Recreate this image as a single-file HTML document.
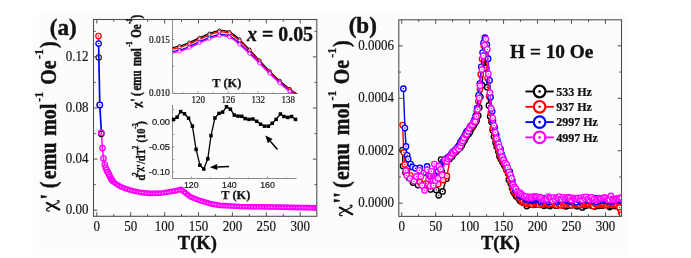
<!DOCTYPE html><html><head><meta charset="utf-8"><style>html,body{margin:0;padding:0;background:#fff;}svg{display:block;will-change:transform;}</style></head><body>
<svg width="691" height="258" viewBox="0 0 691 258">
<rect x="0" y="0" width="691" height="258" fill="#ffffff"/>
<rect x="33.5" y="14.5" width="593.5" height="240" fill="#fcfcfc"/>
<path d="M96.8 216.3V212.3 M96.8 19.5V23.5 M113.75 216.3V214.1 M113.75 19.5V21.7 M130.7 216.3V212.3 M130.7 19.5V23.5 M147.65 216.3V214.1 M147.65 19.5V21.7 M164.6 216.3V212.3 M164.6 19.5V23.5 M181.55 216.3V214.1 M181.55 19.5V21.7 M198.5 216.3V212.3 M198.5 19.5V23.5 M215.45 216.3V214.1 M215.45 19.5V21.7 M232.4 216.3V212.3 M232.4 19.5V23.5 M249.35 216.3V214.1 M249.35 19.5V21.7 M266.3 216.3V212.3 M266.3 19.5V23.5 M283.25 216.3V214.1 M283.25 19.5V21.7 M300.2 216.3V212.3 M300.2 19.5V23.5 M93.5 210.2H97.5 M316.8 210.2H312.8 M93.5 184.65H95.7 M316.8 184.65H314.6 M93.5 159.1H97.5 M316.8 159.1H312.8 M93.5 133.55H95.7 M316.8 133.55H314.6 M93.5 108H97.5 M316.8 108H312.8 M93.5 82.45H95.7 M316.8 82.45H314.6 M93.5 56.9H97.5 M316.8 56.9H312.8 M93.5 31.35H95.7 M316.8 31.35H314.6" stroke="#505050" stroke-width="1" fill="none"/>
<rect x="93.5" y="19.5" width="223.3" height="196.8" fill="none" stroke="#505050" stroke-width="1.1"/>
<text x="96.8" y="231" font-family='"Liberation Serif", serif' font-size="13" fill="#151515" text-anchor="middle"  stroke="#151515" stroke-width="0.18" transform="translate(0,-23.1) scale(1,1.1)">0</text>
<text x="130.7" y="231" font-family='"Liberation Serif", serif' font-size="13" fill="#151515" text-anchor="middle"  stroke="#151515" stroke-width="0.18" transform="translate(0,-23.1) scale(1,1.1)">50</text>
<text x="164.6" y="231" font-family='"Liberation Serif", serif' font-size="13" fill="#151515" text-anchor="middle"  stroke="#151515" stroke-width="0.18" transform="translate(0,-23.1) scale(1,1.1)">100</text>
<text x="198.5" y="231" font-family='"Liberation Serif", serif' font-size="13" fill="#151515" text-anchor="middle"  stroke="#151515" stroke-width="0.18" transform="translate(0,-23.1) scale(1,1.1)">150</text>
<text x="232.4" y="231" font-family='"Liberation Serif", serif' font-size="13" fill="#151515" text-anchor="middle"  stroke="#151515" stroke-width="0.18" transform="translate(0,-23.1) scale(1,1.1)">200</text>
<text x="266.3" y="231" font-family='"Liberation Serif", serif' font-size="13" fill="#151515" text-anchor="middle"  stroke="#151515" stroke-width="0.18" transform="translate(0,-23.1) scale(1,1.1)">250</text>
<text x="300.2" y="231" font-family='"Liberation Serif", serif' font-size="13" fill="#151515" text-anchor="middle"  stroke="#151515" stroke-width="0.18" transform="translate(0,-23.1) scale(1,1.1)">300</text>
<text x="88.6" y="213.9" font-family='"Liberation Serif", serif' font-size="13" fill="#151515" text-anchor="end"  stroke="#151515" stroke-width="0.18" transform="translate(0,-21.39) scale(1,1.1)">0.00</text>
<text x="88.6" y="162.8" font-family='"Liberation Serif", serif' font-size="13" fill="#151515" text-anchor="end"  stroke="#151515" stroke-width="0.18" transform="translate(0,-16.28) scale(1,1.1)">0.04</text>
<text x="88.6" y="111.7" font-family='"Liberation Serif", serif' font-size="13" fill="#151515" text-anchor="end"  stroke="#151515" stroke-width="0.18" transform="translate(0,-11.17) scale(1,1.1)">0.08</text>
<text x="88.6" y="60.6" font-family='"Liberation Serif", serif' font-size="13" fill="#151515" text-anchor="end"  stroke="#151515" stroke-width="0.18" transform="translate(0,-6.06) scale(1,1.1)">0.12</text>
<text x="49.8" y="34.6" font-family='"Liberation Serif", serif' font-size="23" font-weight="bold" fill="#111" text-anchor="start"  stroke="#111" stroke-width="0.45">(a)</text>
<text x="177.8" y="249.1" font-family='"Liberation Serif", serif' font-size="18.5" font-weight="bold" fill="#111" text-anchor="start"  stroke="#111" stroke-width="0.37">T(K)</text>
<g transform="translate(0,0)" fill="none" stroke="#111" stroke-linecap="round"><path d="M46.9 202.9 L59.3 209.5" stroke-width="2.3"/><path d="M49.3 211 C47.8 211.2 46.4 210.6 46.6 209.4 C46.8 208.4 47.8 208 48.8 207.6 L57 203.3 C58.6 202.5 59.6 201.6 59 200.9 C58.5 200.3 57.6 200.5 57.2 200.9" stroke-width="1.25"/></g>
<g transform="translate(55.7,211) rotate(-90) scale(1,1.12)"><text x="11.4" y="0" font-family='"Liberation Serif", serif' font-size="20" font-weight="bold" fill="#111" text-anchor="start"  stroke="#111" stroke-width="0.4">'</text><text x="22.8" y="0" font-family='"Liberation Serif", serif' font-size="20" font-weight="bold" fill="#111" text-anchor="start"  stroke="#111" stroke-width="0.4">(</text><text x="31.8" y="0" font-family='"Liberation Serif", serif' font-size="20" font-weight="bold" fill="#111" text-anchor="start"  stroke="#111" stroke-width="0.4">emu</text><text x="75.2" y="0" font-family='"Liberation Serif", serif' font-size="20" font-weight="bold" fill="#111" text-anchor="start"  stroke="#111" stroke-width="0.4">mol</text><text x="109.3" y="-11.5" font-family='"Liberation Serif", serif' font-size="12" font-weight="bold" fill="#111" text-anchor="start"  stroke="#111" stroke-width="0.24">-1</text><text x="126.2" y="0" font-family='"Liberation Serif", serif' font-size="20" font-weight="bold" fill="#111" text-anchor="start"  stroke="#111" stroke-width="0.4">Oe</text><text x="151.9" y="-11.5" font-family='"Liberation Serif", serif' font-size="12" font-weight="bold" fill="#111" text-anchor="start"  stroke="#111" stroke-width="0.24">-1</text><text x="163" y="0" font-family='"Liberation Serif", serif' font-size="20" font-weight="bold" fill="#111" text-anchor="start"  stroke="#111" stroke-width="0.4">)</text></g>
<path d="M172.5 19.5V93.5H297.4" stroke="#8c8c8c" stroke-width="1" fill="none"/>
<path d="M183.2 93.5V92.3 M198.2 93.5V91.5 M213.2 93.5V92.3 M228.2 93.5V91.5 M243.2 93.5V92.3 M258.2 93.5V91.5 M273.2 93.5V92.3 M288.2 93.5V91.5 M172.5 93.3H174.2 M172.5 66.4H174.2 M172.5 39.5H174.2" stroke="#8c8c8c" stroke-width="0.9" fill="none"/>
<text x="198.2" y="103" font-family='"Liberation Serif", serif' font-size="9" fill="#151515" text-anchor="middle"  stroke="#151515" stroke-width="0.18" transform="translate(0,-10.3) scale(1,1.1)">120</text>
<text x="228.2" y="103" font-family='"Liberation Serif", serif' font-size="9" fill="#151515" text-anchor="middle"  stroke="#151515" stroke-width="0.18" transform="translate(0,-10.3) scale(1,1.1)">126</text>
<text x="258.2" y="103" font-family='"Liberation Serif", serif' font-size="9" fill="#151515" text-anchor="middle"  stroke="#151515" stroke-width="0.18" transform="translate(0,-10.3) scale(1,1.1)">132</text>
<text x="288.2" y="103" font-family='"Liberation Serif", serif' font-size="9" fill="#151515" text-anchor="middle"  stroke="#151515" stroke-width="0.18" transform="translate(0,-10.3) scale(1,1.1)">138</text>
<text x="170" y="96.3" font-family='"Liberation Serif", serif' font-size="9.3" fill="#151515" text-anchor="end"  stroke="#151515" stroke-width="0.18" transform="translate(0,-9.63) scale(1,1.1)">0.010</text>
<text x="170" y="42.6" font-family='"Liberation Serif", serif' font-size="9.3" fill="#151515" text-anchor="end"  stroke="#151515" stroke-width="0.18" transform="translate(0,-4.26) scale(1,1.1)">0.015</text>
<text x="212.3" y="87.1" font-family='"Liberation Serif", serif' font-size="12.4" font-weight="bold" fill="#111" text-anchor="start"  stroke="#111" stroke-width="0.25">T (K)</text>
<g transform="translate(134.9,102) scale(0.55,0.52) translate(-45.8,-200.6)"><g transform="scale(1)"><path d="M46.9 202.9 L59.3 209.5" stroke-width="3.68" stroke="#111" fill="none" stroke-linecap="round"/><path d="M49.3 211 C47.8 211.2 46.4 210.6 46.6 209.4 C46.8 208.4 47.8 208 48.8 207.6 L57 203.3 C58.6 202.5 59.6 201.6 59 200.9 C58.5 200.3 57.6 200.5 57.2 200.9" stroke-width="2" stroke="#111" fill="none" stroke-linecap="round"/></g></g>
<g transform="translate(140.6,108) rotate(-90) scale(1,1.3)"><text x="6.4" y="0" font-family='"Liberation Serif", serif' font-size="11" font-weight="bold" fill="#111" text-anchor="start"  stroke="#111" stroke-width="0.4">'</text><text x="12.1" y="0" font-family='"Liberation Serif", serif' font-size="11" font-weight="bold" fill="#111" text-anchor="start"  stroke="#111" stroke-width="0.4">(</text><text x="17.5" y="0" font-family='"Liberation Serif", serif' font-size="11" font-weight="bold" fill="#111" text-anchor="start"  stroke="#111" stroke-width="0.4">emu</text><text x="42" y="0" font-family='"Liberation Serif", serif' font-size="11" font-weight="bold" fill="#111" text-anchor="start"  stroke="#111" stroke-width="0.4">mol</text><text x="61.2" y="-6.5" font-family='"Liberation Serif", serif' font-size="6.5" font-weight="bold" fill="#111" text-anchor="start"  stroke="#111" stroke-width="0.4">-1</text><text x="70.3" y="0" font-family='"Liberation Serif", serif' font-size="11" font-weight="bold" fill="#111" text-anchor="start"  stroke="#111" stroke-width="0.4">Oe</text><text x="84.3" y="-6.5" font-family='"Liberation Serif", serif' font-size="6.5" font-weight="bold" fill="#111" text-anchor="start"  stroke="#111" stroke-width="0.4">-1</text><text x="89.6" y="0" font-family='"Liberation Serif", serif' font-size="11" font-weight="bold" fill="#111" text-anchor="start"  stroke="#111" stroke-width="0.4">)</text></g>
<text x="247" y="40.8" font-family='"Liberation Serif", serif' font-size="19.9" font-weight="bold" fill="#111" stroke="#111" stroke-width="0.35"><tspan font-style="italic">x</tspan> = 0.05</text>
<defs><clipPath id="ic"><rect x="172.5" y="19.5" width="130" height="74"/></clipPath></defs>
<g clip-path="url(#ic)">
<path d="M172.5 47.6 C173.67 47.37 176.68 47.03 179.5 46.2 C182.32 45.37 186.07 44 189.4 42.6 C192.73 41.2 196.17 39.3 199.5 37.8 C202.83 36.3 206.98 34.6 209.4 33.6 C211.82 32.6 212.35 32.3 214 31.8 C215.65 31.3 217.63 30.8 219.3 30.6 C220.97 30.4 222.32 30.37 224 30.6 C225.68 30.83 227.73 31.3 229.4 32 C231.07 32.7 232.32 33.57 234 34.8 C235.68 36.03 236.92 36.93 239.5 39.4 C242.08 41.87 246.17 46.08 249.5 49.6 C252.83 53.12 256.15 56.9 259.5 60.5 C262.85 64.1 266.23 67.82 269.6 71.2 C272.97 74.58 276.35 77.83 279.7 80.8 C283.05 83.77 286.65 86.72 289.7 89 C292.75 91.28 296.62 93.58 298 94.5" fill="none" stroke="#000000" stroke-width="1.35"/>
<circle cx="179.5" cy="46.2" r="1.6" fill="#fff" stroke="#000000" stroke-width="0.9"/>
<circle cx="189.4" cy="42.6" r="1.6" fill="#fff" stroke="#000000" stroke-width="0.9"/>
<circle cx="199.5" cy="37.8" r="1.6" fill="#fff" stroke="#000000" stroke-width="0.9"/>
<circle cx="209.4" cy="33.6" r="1.6" fill="#fff" stroke="#000000" stroke-width="0.9"/>
<circle cx="219.3" cy="30.6" r="1.6" fill="#fff" stroke="#000000" stroke-width="0.9"/>
<circle cx="229.4" cy="32" r="1.6" fill="#fff" stroke="#000000" stroke-width="0.9"/>
<circle cx="239.5" cy="39.4" r="1.6" fill="#fff" stroke="#000000" stroke-width="0.9"/>
<circle cx="249.5" cy="49.6" r="1.6" fill="#fff" stroke="#000000" stroke-width="0.9"/>
<circle cx="259.5" cy="60.5" r="1.6" fill="#fff" stroke="#000000" stroke-width="0.9"/>
<circle cx="269.6" cy="71.2" r="1.6" fill="#fff" stroke="#000000" stroke-width="0.9"/>
<circle cx="279.7" cy="80.8" r="1.6" fill="#fff" stroke="#000000" stroke-width="0.9"/>
<circle cx="289.7" cy="89" r="1.6" fill="#fff" stroke="#000000" stroke-width="0.9"/>
<path d="M172.5 49 C173.67 48.77 176.68 48.43 179.5 47.6 C182.32 46.77 186.07 45.4 189.4 44 C192.73 42.6 196.17 40.7 199.5 39.2 C202.83 37.7 206.98 36 209.4 35 C211.82 34 212.35 33.7 214 33.2 C215.65 32.7 217.63 32.2 219.3 32 C220.97 31.8 222.32 31.77 224 32 C225.68 32.23 227.73 32.7 229.4 33.4 C231.07 34.1 232.32 34.97 234 36.2 C235.68 37.43 236.92 38.38 239.5 40.8 C242.08 43.22 246.17 47.29 249.5 50.7 C252.83 54.12 256.15 57.77 259.5 61.29 C262.85 64.81 266.23 68.47 269.6 71.83 C272.97 75.19 276.35 78.46 279.7 81.43 C283.05 84.4 286.65 87.35 289.7 89.63 C292.75 91.91 296.62 94.21 298 95.13" fill="none" stroke="#ff0000" stroke-width="1.35"/>
<circle cx="179.5" cy="47.6" r="1.6" fill="#fff" stroke="#ff0000" stroke-width="0.9"/>
<circle cx="189.4" cy="44" r="1.6" fill="#fff" stroke="#ff0000" stroke-width="0.9"/>
<circle cx="199.5" cy="39.2" r="1.6" fill="#fff" stroke="#ff0000" stroke-width="0.9"/>
<circle cx="209.4" cy="35" r="1.6" fill="#fff" stroke="#ff0000" stroke-width="0.9"/>
<circle cx="219.3" cy="32" r="1.6" fill="#fff" stroke="#ff0000" stroke-width="0.9"/>
<circle cx="229.4" cy="33.4" r="1.6" fill="#fff" stroke="#ff0000" stroke-width="0.9"/>
<circle cx="239.5" cy="40.8" r="1.6" fill="#fff" stroke="#ff0000" stroke-width="0.9"/>
<circle cx="249.5" cy="50.7" r="1.6" fill="#fff" stroke="#ff0000" stroke-width="0.9"/>
<circle cx="259.5" cy="61.29" r="1.6" fill="#fff" stroke="#ff0000" stroke-width="0.9"/>
<circle cx="269.6" cy="71.83" r="1.6" fill="#fff" stroke="#ff0000" stroke-width="0.9"/>
<circle cx="279.7" cy="81.43" r="1.6" fill="#fff" stroke="#ff0000" stroke-width="0.9"/>
<circle cx="289.7" cy="89.63" r="1.6" fill="#fff" stroke="#ff0000" stroke-width="0.9"/>
<path d="M172.5 51.6 C173.67 51.37 176.68 51.03 179.5 50.2 C182.32 49.37 186.07 48 189.4 46.6 C192.73 45.2 196.17 43.3 199.5 41.8 C202.83 40.3 206.98 38.6 209.4 37.6 C211.82 36.6 212.35 36.3 214 35.8 C215.65 35.3 217.63 34.8 219.3 34.6 C220.97 34.4 222.32 34.37 224 34.6 C225.68 34.83 227.73 35.3 229.4 36 C231.07 36.7 232.32 37.57 234 38.8 C235.68 40.03 236.92 41.07 239.5 43.4 C242.08 45.73 246.17 49.53 249.5 52.76 C252.83 55.98 256.15 59.39 259.5 62.77 C262.85 66.14 266.23 69.69 269.6 73 C272.97 76.31 276.35 79.63 279.7 82.6 C283.05 85.57 286.65 88.52 289.7 90.8 C292.75 93.08 296.62 95.38 298 96.3" fill="none" stroke="#0000ff" stroke-width="1.35"/>
<circle cx="179.5" cy="50.2" r="1.6" fill="#fff" stroke="#0000ff" stroke-width="0.9"/>
<circle cx="189.4" cy="46.6" r="1.6" fill="#fff" stroke="#0000ff" stroke-width="0.9"/>
<circle cx="199.5" cy="41.8" r="1.6" fill="#fff" stroke="#0000ff" stroke-width="0.9"/>
<circle cx="209.4" cy="37.6" r="1.6" fill="#fff" stroke="#0000ff" stroke-width="0.9"/>
<circle cx="219.3" cy="34.6" r="1.6" fill="#fff" stroke="#0000ff" stroke-width="0.9"/>
<circle cx="229.4" cy="36" r="1.6" fill="#fff" stroke="#0000ff" stroke-width="0.9"/>
<circle cx="239.5" cy="43.4" r="1.6" fill="#fff" stroke="#0000ff" stroke-width="0.9"/>
<circle cx="249.5" cy="52.76" r="1.6" fill="#fff" stroke="#0000ff" stroke-width="0.9"/>
<circle cx="259.5" cy="62.77" r="1.6" fill="#fff" stroke="#0000ff" stroke-width="0.9"/>
<circle cx="269.6" cy="73" r="1.6" fill="#fff" stroke="#0000ff" stroke-width="0.9"/>
<circle cx="279.7" cy="82.6" r="1.6" fill="#fff" stroke="#0000ff" stroke-width="0.9"/>
<circle cx="289.7" cy="90.8" r="1.6" fill="#fff" stroke="#0000ff" stroke-width="0.9"/>
<path d="M172.5 52.8 C173.67 52.57 176.68 52.23 179.5 51.4 C182.32 50.57 186.07 49.2 189.4 47.8 C192.73 46.4 196.17 44.5 199.5 43 C202.83 41.5 206.98 39.8 209.4 38.8 C211.82 37.8 212.35 37.5 214 37 C215.65 36.5 217.63 36 219.3 35.8 C220.97 35.6 222.32 35.57 224 35.8 C225.68 36.03 227.73 36.5 229.4 37.2 C231.07 37.9 232.32 38.77 234 40 C235.68 41.23 236.92 42.32 239.5 44.6 C242.08 46.88 246.17 50.56 249.5 53.7 C252.83 56.84 256.15 60.14 259.5 63.45 C262.85 66.75 266.23 70.26 269.6 73.54 C272.97 76.82 276.35 80.17 279.7 83.14 C283.05 86.11 286.65 89.06 289.7 91.34 C292.75 93.62 296.62 95.92 298 96.84" fill="none" stroke="#ff00ff" stroke-width="1.35"/>
<circle cx="179.5" cy="51.4" r="1.6" fill="#fff" stroke="#ff00ff" stroke-width="0.9"/>
<circle cx="189.4" cy="47.8" r="1.6" fill="#fff" stroke="#ff00ff" stroke-width="0.9"/>
<circle cx="199.5" cy="43" r="1.6" fill="#fff" stroke="#ff00ff" stroke-width="0.9"/>
<circle cx="209.4" cy="38.8" r="1.6" fill="#fff" stroke="#ff00ff" stroke-width="0.9"/>
<circle cx="219.3" cy="35.8" r="1.6" fill="#fff" stroke="#ff00ff" stroke-width="0.9"/>
<circle cx="229.4" cy="37.2" r="1.6" fill="#fff" stroke="#ff00ff" stroke-width="0.9"/>
<circle cx="239.5" cy="44.6" r="1.6" fill="#fff" stroke="#ff00ff" stroke-width="0.9"/>
<circle cx="249.5" cy="53.7" r="1.6" fill="#fff" stroke="#ff00ff" stroke-width="0.9"/>
<circle cx="259.5" cy="63.45" r="1.6" fill="#fff" stroke="#ff00ff" stroke-width="0.9"/>
<circle cx="269.6" cy="73.54" r="1.6" fill="#fff" stroke="#ff00ff" stroke-width="0.9"/>
<circle cx="279.7" cy="83.14" r="1.6" fill="#fff" stroke="#ff00ff" stroke-width="0.9"/>
<circle cx="289.7" cy="91.34" r="1.6" fill="#fff" stroke="#ff00ff" stroke-width="0.9"/>
</g>
<path d="M172.5 105V178.5H296.6" stroke="#8c8c8c" stroke-width="1" fill="none"/>
<path d="M172.25 178.5V177.3 M191.3 178.5V176.5 M210.35 178.5V177.3 M229.4 178.5V176.5 M248.45 178.5V177.3 M267.5 178.5V176.5 M286.55 178.5V177.3 M172.5 109.5H174.3 M172.5 122H174.3 M172.5 134.5H174.3 M172.5 147H174.3 M172.5 159.5H174.3 M172.5 172H174.3" stroke="#8c8c8c" stroke-width="0.9" fill="none"/>
<text x="191.3" y="188.3" font-family='"Liberation Sans", sans-serif' font-size="8.8" fill="#151515" text-anchor="middle"  stroke="#151515" stroke-width="0.18">120</text>
<text x="229.4" y="188.3" font-family='"Liberation Sans", sans-serif' font-size="8.8" fill="#151515" text-anchor="middle"  stroke="#151515" stroke-width="0.18">140</text>
<text x="267.5" y="188.3" font-family='"Liberation Sans", sans-serif' font-size="8.8" fill="#151515" text-anchor="middle"  stroke="#151515" stroke-width="0.18">160</text>
<text x="170" y="125.4" font-family='"Liberation Sans", sans-serif' font-size="9.3" fill="#151515" text-anchor="end"  stroke="#151515" stroke-width="0.18">0.00</text>
<text x="170" y="150.4" font-family='"Liberation Sans", sans-serif' font-size="9.3" fill="#151515" text-anchor="end"  stroke="#151515" stroke-width="0.18">-0.05</text>
<text x="170" y="175.4" font-family='"Liberation Sans", sans-serif' font-size="9.3" fill="#151515" text-anchor="end"  stroke="#151515" stroke-width="0.18">-0.10</text>
<text x="221.3" y="199.4" font-family='"Liberation Serif", serif' font-size="12.4" font-weight="bold" fill="#111" text-anchor="start"  stroke="#111" stroke-width="0.25">T (K)</text>
<g transform="translate(137,167.3) scale(0.52,0.4) translate(-45.8,-200.6)"><g transform="scale(1)"><path d="M46.9 202.9 L59.3 209.5" stroke-width="3.68" stroke="#111" fill="none" stroke-linecap="round"/><path d="M49.3 211 C47.8 211.2 46.4 210.6 46.6 209.4 C46.8 208.4 47.8 208 48.8 207.6 L57 203.3 C58.6 202.5 59.6 201.6 59 200.9 C58.5 200.3 57.6 200.5 57.2 200.9" stroke-width="2" stroke="#111" fill="none" stroke-linecap="round"/></g></g>
<g transform="translate(144.5,180.6) rotate(-90) scale(1,1.12)"><text x="0" y="0" font-family='"Liberation Serif", serif' font-size="10.5" font-weight="bold" fill="#111" text-anchor="start"  stroke="#111" stroke-width="0.35">d</text><text x="4.9" y="-5.5" font-family='"Liberation Serif", serif' font-size="6.5" font-weight="bold" fill="#111" text-anchor="start"  stroke="#111" stroke-width="0.35">2</text><text x="13.6" y="0" font-family='"Liberation Serif", serif' font-size="10.5" font-weight="bold" fill="#111" text-anchor="start"  stroke="#111" stroke-width="0.35">'/dT</text><text x="31.7" y="-5.5" font-family='"Liberation Serif", serif' font-size="6.5" font-weight="bold" fill="#111" text-anchor="start"  stroke="#111" stroke-width="0.35">2</text><text x="38" y="0" font-family='"Liberation Serif", serif' font-size="10.5" font-weight="bold" fill="#111" text-anchor="start"  stroke="#111" stroke-width="0.35">(10</text><text x="51.9" y="-5.5" font-family='"Liberation Serif", serif' font-size="6.5" font-weight="bold" fill="#111" text-anchor="start"  stroke="#111" stroke-width="0.35">-3</text><text x="55.8" y="0" font-family='"Liberation Serif", serif' font-size="10.5" font-weight="bold" fill="#111" text-anchor="start"  stroke="#111" stroke-width="0.35">)</text></g>
<polyline points="173.6,119.4 177.1,117.2 180.7,111.6 184.5,113.8 188.6,118.2 192.4,126.1 196.1,149.4 199.9,165.2 203.8,169 207.8,158.8 211,135.6 214.9,118 219,113.4 222.6,112.1 226.5,106.8 230.4,109.2 234.3,115.1 238,116.1 241.8,116.3 245.1,118.6 249,119.4 252.9,119 256.7,121.3 260.6,124.2 264.5,126.2 268.4,126.2 272.2,123.3 276.1,119.4 280.4,114 283.9,116.5 287.8,117.4 291.6,116.5 295.5,119.4" fill="none" stroke="#000" stroke-width="1.3" stroke-linejoin="round" />
<rect x="171.85" y="117.65" width="3.5" height="3.5" fill="#000"/><rect x="175.35" y="115.45" width="3.5" height="3.5" fill="#000"/><rect x="178.95" y="109.85" width="3.5" height="3.5" fill="#000"/><rect x="182.75" y="112.05" width="3.5" height="3.5" fill="#000"/><rect x="186.85" y="116.45" width="3.5" height="3.5" fill="#000"/><rect x="190.65" y="124.35" width="3.5" height="3.5" fill="#000"/><rect x="194.35" y="147.65" width="3.5" height="3.5" fill="#000"/><rect x="198.15" y="163.45" width="3.5" height="3.5" fill="#000"/><rect x="202.05" y="167.25" width="3.5" height="3.5" fill="#000"/><rect x="206.05" y="157.05" width="3.5" height="3.5" fill="#000"/><rect x="209.25" y="133.85" width="3.5" height="3.5" fill="#000"/><rect x="213.15" y="116.25" width="3.5" height="3.5" fill="#000"/><rect x="217.25" y="111.65" width="3.5" height="3.5" fill="#000"/><rect x="220.85" y="110.35" width="3.5" height="3.5" fill="#000"/><rect x="224.75" y="105.05" width="3.5" height="3.5" fill="#000"/><rect x="228.65" y="107.45" width="3.5" height="3.5" fill="#000"/><rect x="232.55" y="113.35" width="3.5" height="3.5" fill="#000"/><rect x="236.25" y="114.35" width="3.5" height="3.5" fill="#000"/><rect x="240.05" y="114.55" width="3.5" height="3.5" fill="#000"/><rect x="243.35" y="116.85" width="3.5" height="3.5" fill="#000"/><rect x="247.25" y="117.65" width="3.5" height="3.5" fill="#000"/><rect x="251.15" y="117.25" width="3.5" height="3.5" fill="#000"/><rect x="254.95" y="119.55" width="3.5" height="3.5" fill="#000"/><rect x="258.85" y="122.45" width="3.5" height="3.5" fill="#000"/><rect x="262.75" y="124.45" width="3.5" height="3.5" fill="#000"/><rect x="266.65" y="124.45" width="3.5" height="3.5" fill="#000"/><rect x="270.45" y="121.55" width="3.5" height="3.5" fill="#000"/><rect x="274.35" y="117.65" width="3.5" height="3.5" fill="#000"/><rect x="278.65" y="112.25" width="3.5" height="3.5" fill="#000"/><rect x="282.15" y="114.75" width="3.5" height="3.5" fill="#000"/><rect x="286.05" y="115.65" width="3.5" height="3.5" fill="#000"/><rect x="289.85" y="114.75" width="3.5" height="3.5" fill="#000"/><rect x="293.75" y="117.65" width="3.5" height="3.5" fill="#000"/>
<line x1="229" y1="166.5" x2="217.29" y2="166.99" stroke="#000" stroke-width="1.5"/><polygon points="209.8,167.3 217.16,163.89 217.42,170.09" fill="#000"/>
<line x1="277.5" y1="149.4" x2="270.25" y2="141.14" stroke="#000" stroke-width="1.5"/><polygon points="265.3,135.5 272.58,139.09 267.92,143.18" fill="#000"/>
<defs><clipPath id="ac"><rect x="94" y="20" width="222.3" height="195.8"/></clipPath></defs>
<g clip-path="url(#ac)">
<polyline points="111.1,178.7 114,182.3 117,184.6 120,186.3 125,188.4 130,190 135,191.3 140,192.3 150,193.4 160,193.2 165,192.5 175,190.9 181.3,189.3 184,191.8 190,196.6 200,200.6 210,203.6 220,205.4 240,206.5 280,207.2 318,207.8" fill="none" stroke="#ff00ff" stroke-width="5.7" stroke-linejoin="round" stroke-linecap="round"/>
<circle cx="112" cy="180.02" r="0.7" fill="#ffb8ff"/><circle cx="114.8" cy="183.11" r="0.7" fill="#ffb8ff"/><circle cx="117.6" cy="185.14" r="0.7" fill="#ffb8ff"/><circle cx="120.4" cy="186.67" r="0.7" fill="#ffb8ff"/><circle cx="123.2" cy="187.84" r="0.7" fill="#ffb8ff"/><circle cx="126" cy="188.92" r="0.7" fill="#ffb8ff"/><circle cx="128.8" cy="189.82" r="0.7" fill="#ffb8ff"/><circle cx="131.6" cy="190.62" r="0.7" fill="#ffb8ff"/><circle cx="134.4" cy="191.34" r="0.7" fill="#ffb8ff"/><circle cx="137.2" cy="191.94" r="0.7" fill="#ffb8ff"/><circle cx="140" cy="192.5" r="0.7" fill="#ffb8ff"/><circle cx="142.8" cy="192.81" r="0.7" fill="#ffb8ff"/><circle cx="145.6" cy="193.12" r="0.7" fill="#ffb8ff"/><circle cx="148.4" cy="193.42" r="0.7" fill="#ffb8ff"/><circle cx="151.2" cy="193.58" r="0.7" fill="#ffb8ff"/><circle cx="154" cy="193.52" r="0.7" fill="#ffb8ff"/><circle cx="156.8" cy="193.46" r="0.7" fill="#ffb8ff"/><circle cx="159.6" cy="193.41" r="0.7" fill="#ffb8ff"/><circle cx="162.4" cy="193.06" r="0.7" fill="#ffb8ff"/><circle cx="165.2" cy="192.67" r="0.7" fill="#ffb8ff"/><circle cx="168" cy="192.22" r="0.7" fill="#ffb8ff"/><circle cx="170.8" cy="191.77" r="0.7" fill="#ffb8ff"/><circle cx="173.6" cy="191.32" r="0.7" fill="#ffb8ff"/><circle cx="176.4" cy="190.74" r="0.7" fill="#ffb8ff"/><circle cx="179.2" cy="190.03" r="0.7" fill="#ffb8ff"/><circle cx="182" cy="190.15" r="0.7" fill="#ffb8ff"/><circle cx="184.8" cy="192.64" r="0.7" fill="#ffb8ff"/><circle cx="187.6" cy="194.88" r="0.7" fill="#ffb8ff"/><circle cx="190.4" cy="196.96" r="0.7" fill="#ffb8ff"/><circle cx="193.2" cy="198.08" r="0.7" fill="#ffb8ff"/><circle cx="196" cy="199.2" r="0.7" fill="#ffb8ff"/><circle cx="198.8" cy="200.32" r="0.7" fill="#ffb8ff"/><circle cx="201.6" cy="201.28" r="0.7" fill="#ffb8ff"/><circle cx="204.4" cy="202.12" r="0.7" fill="#ffb8ff"/><circle cx="207.2" cy="202.96" r="0.7" fill="#ffb8ff"/><circle cx="210" cy="203.8" r="0.7" fill="#ffb8ff"/><circle cx="212.8" cy="204.3" r="0.7" fill="#ffb8ff"/><circle cx="215.6" cy="204.81" r="0.7" fill="#ffb8ff"/><circle cx="218.4" cy="205.31" r="0.7" fill="#ffb8ff"/><circle cx="221.2" cy="205.67" r="0.7" fill="#ffb8ff"/><circle cx="224" cy="205.82" r="0.7" fill="#ffb8ff"/><circle cx="226.8" cy="205.97" r="0.7" fill="#ffb8ff"/><circle cx="229.6" cy="206.13" r="0.7" fill="#ffb8ff"/><circle cx="232.4" cy="206.28" r="0.7" fill="#ffb8ff"/><circle cx="235.2" cy="206.44" r="0.7" fill="#ffb8ff"/><circle cx="238" cy="206.59" r="0.7" fill="#ffb8ff"/><circle cx="240.8" cy="206.71" r="0.7" fill="#ffb8ff"/><circle cx="243.6" cy="206.76" r="0.7" fill="#ffb8ff"/><circle cx="246.4" cy="206.81" r="0.7" fill="#ffb8ff"/><circle cx="249.2" cy="206.86" r="0.7" fill="#ffb8ff"/><circle cx="252" cy="206.91" r="0.7" fill="#ffb8ff"/><circle cx="254.8" cy="206.96" r="0.7" fill="#ffb8ff"/><circle cx="257.6" cy="207.01" r="0.7" fill="#ffb8ff"/><circle cx="260.4" cy="207.06" r="0.7" fill="#ffb8ff"/><circle cx="263.2" cy="207.11" r="0.7" fill="#ffb8ff"/><circle cx="266" cy="207.16" r="0.7" fill="#ffb8ff"/><circle cx="268.8" cy="207.2" r="0.7" fill="#ffb8ff"/><circle cx="271.6" cy="207.25" r="0.7" fill="#ffb8ff"/><circle cx="274.4" cy="207.3" r="0.7" fill="#ffb8ff"/><circle cx="277.2" cy="207.35" r="0.7" fill="#ffb8ff"/><circle cx="280" cy="207.4" r="0.7" fill="#ffb8ff"/><circle cx="282.8" cy="207.44" r="0.7" fill="#ffb8ff"/><circle cx="285.6" cy="207.49" r="0.7" fill="#ffb8ff"/><circle cx="288.4" cy="207.53" r="0.7" fill="#ffb8ff"/><circle cx="291.2" cy="207.58" r="0.7" fill="#ffb8ff"/><circle cx="294" cy="207.62" r="0.7" fill="#ffb8ff"/><circle cx="296.8" cy="207.67" r="0.7" fill="#ffb8ff"/><circle cx="299.6" cy="207.71" r="0.7" fill="#ffb8ff"/><circle cx="302.4" cy="207.75" r="0.7" fill="#ffb8ff"/><circle cx="305.2" cy="207.8" r="0.7" fill="#ffb8ff"/><circle cx="308" cy="207.84" r="0.7" fill="#ffb8ff"/><circle cx="310.8" cy="207.89" r="0.7" fill="#ffb8ff"/><circle cx="313.6" cy="207.93" r="0.7" fill="#ffb8ff"/>
<polyline points="98.5,36 98.6,43.5" fill="none" stroke="#ff0000" stroke-width="1.4" stroke-linejoin="round" />
<polyline points="98.6,43.5 99.8,104.9 101.4,132.7" fill="none" stroke="#0000ff" stroke-width="1.7" stroke-linejoin="round" />
<polyline points="101.4,132.7 102.4,148.4 103.6,158.9 104.6,164.8" fill="none" stroke="#ff00ff" stroke-width="1.5" stroke-linejoin="round" />
<circle cx="98.5" cy="36" r="2.7" fill="#fff" stroke="#ff0000" stroke-width="1.3"/><circle cx="98.5" cy="36" r="0.7" fill="#ff0000"/>
<circle cx="101.3" cy="133.8" r="2.7" fill="#fff" stroke="#000000" stroke-width="1.3"/><circle cx="101.3" cy="133.8" r="0.7" fill="#000000"/>
<circle cx="99.8" cy="104.9" r="2.7" fill="#fff" stroke="#cc0000" stroke-width="1.3"/><circle cx="99.8" cy="104.9" r="0.7" fill="#cc0000"/>
<circle cx="98.7" cy="57.4" r="2.7" fill="none" stroke="#222222" stroke-width="1.1"/>
<circle cx="98.6" cy="43.5" r="2.7" fill="#fff" stroke="#0000ff" stroke-width="1.3"/><circle cx="98.6" cy="43.5" r="0.7" fill="#0000ff"/>
<circle cx="99.8" cy="104.9" r="2.7" fill="#fff" stroke="#0000ff" stroke-width="1.3"/><circle cx="99.8" cy="104.9" r="0.7" fill="#0000ff"/>
<circle cx="101.4" cy="132.7" r="2.7" fill="none" stroke="#ff00ff" stroke-width="1.3"/><circle cx="101.4" cy="132.7" r="0.7" fill="#ff00ff"/>
<circle cx="102.5" cy="148.2" r="2.7" fill="none" stroke="#ff00ff" stroke-width="1.3"/><circle cx="102.5" cy="148.2" r="0.7" fill="#ff00ff"/>
<circle cx="103.5" cy="158.4" r="2.7" fill="none" stroke="#ff00ff" stroke-width="1.3"/><circle cx="103.5" cy="158.4" r="0.7" fill="#ff00ff"/>
<circle cx="104.8" cy="164.6" r="2.7" fill="none" stroke="#ff00ff" stroke-width="1.3"/><circle cx="104.8" cy="164.6" r="0.7" fill="#ff00ff"/>
<circle cx="105.7" cy="167.5" r="2.7" fill="none" stroke="#ff00ff" stroke-width="1.3"/><circle cx="105.7" cy="167.5" r="0.7" fill="#ff00ff"/>
<circle cx="106.7" cy="170" r="2.7" fill="none" stroke="#ff00ff" stroke-width="1.3"/><circle cx="106.7" cy="170" r="0.7" fill="#ff00ff"/>
<circle cx="107.8" cy="172.2" r="2.7" fill="none" stroke="#ff00ff" stroke-width="1.3"/><circle cx="107.8" cy="172.2" r="0.7" fill="#ff00ff"/>
<circle cx="108.9" cy="174.3" r="2.7" fill="none" stroke="#ff00ff" stroke-width="1.3"/><circle cx="108.9" cy="174.3" r="0.7" fill="#ff00ff"/>
<circle cx="110" cy="176.5" r="2.7" fill="none" stroke="#ff00ff" stroke-width="1.3"/><circle cx="110" cy="176.5" r="0.7" fill="#ff00ff"/>
<circle cx="111.1" cy="178.7" r="2.7" fill="none" stroke="#ff00ff" stroke-width="1.3"/><circle cx="111.1" cy="178.7" r="0.7" fill="#ff00ff"/>
<circle cx="112.3" cy="180.5" r="2.7" fill="none" stroke="#ff00ff" stroke-width="1.3"/><circle cx="112.3" cy="180.5" r="0.7" fill="#ff00ff"/>
</g>
<path d="M401.7 216.4V212.4 M401.7 19.8V23.8 M418.68 216.4V214.2 M418.68 19.8V22 M435.66 216.4V212.4 M435.66 19.8V23.8 M452.65 216.4V214.2 M452.65 19.8V22 M469.63 216.4V212.4 M469.63 19.8V23.8 M486.61 216.4V214.2 M486.61 19.8V22 M503.59 216.4V212.4 M503.59 19.8V23.8 M520.58 216.4V214.2 M520.58 19.8V22 M537.56 216.4V212.4 M537.56 19.8V23.8 M554.54 216.4V214.2 M554.54 19.8V22 M571.52 216.4V212.4 M571.52 19.8V23.8 M588.51 216.4V214.2 M588.51 19.8V22 M605.49 216.4V212.4 M605.49 19.8V23.8 M398.8 203.2H402.8 M621.5 203.2H617.5 M398.8 176.97H401 M621.5 176.97H619.3 M398.8 150.75H402.8 M621.5 150.75H617.5 M398.8 124.52H401 M621.5 124.52H619.3 M398.8 98.3H402.8 M621.5 98.3H617.5 M398.8 72.07H401 M621.5 72.07H619.3 M398.8 45.85H402.8 M621.5 45.85H617.5" stroke="#505050" stroke-width="1" fill="none"/>
<rect x="398.8" y="19.8" width="222.7" height="196.6" fill="none" stroke="#505050" stroke-width="1.1"/>
<text x="401.7" y="231" font-family='"Liberation Serif", serif' font-size="13" fill="#151515" text-anchor="middle"  stroke="#151515" stroke-width="0.18" transform="translate(0,-23.1) scale(1,1.1)">0</text>
<text x="435.66" y="231" font-family='"Liberation Serif", serif' font-size="13" fill="#151515" text-anchor="middle"  stroke="#151515" stroke-width="0.18" transform="translate(0,-23.1) scale(1,1.1)">50</text>
<text x="469.63" y="231" font-family='"Liberation Serif", serif' font-size="13" fill="#151515" text-anchor="middle"  stroke="#151515" stroke-width="0.18" transform="translate(0,-23.1) scale(1,1.1)">100</text>
<text x="503.59" y="231" font-family='"Liberation Serif", serif' font-size="13" fill="#151515" text-anchor="middle"  stroke="#151515" stroke-width="0.18" transform="translate(0,-23.1) scale(1,1.1)">150</text>
<text x="537.56" y="231" font-family='"Liberation Serif", serif' font-size="13" fill="#151515" text-anchor="middle"  stroke="#151515" stroke-width="0.18" transform="translate(0,-23.1) scale(1,1.1)">200</text>
<text x="571.52" y="231" font-family='"Liberation Serif", serif' font-size="13" fill="#151515" text-anchor="middle"  stroke="#151515" stroke-width="0.18" transform="translate(0,-23.1) scale(1,1.1)">250</text>
<text x="605.49" y="231" font-family='"Liberation Serif", serif' font-size="13" fill="#151515" text-anchor="middle"  stroke="#151515" stroke-width="0.18" transform="translate(0,-23.1) scale(1,1.1)">300</text>
<text x="394" y="207.4" font-family='"Liberation Serif", serif' font-size="13" fill="#151515" text-anchor="end"  stroke="#151515" stroke-width="0.18" transform="translate(0,-20.74) scale(1,1.1)">0.0000</text>
<text x="394" y="154.95" font-family='"Liberation Serif", serif' font-size="13" fill="#151515" text-anchor="end"  stroke="#151515" stroke-width="0.18" transform="translate(0,-15.5) scale(1,1.1)">0.0002</text>
<text x="394" y="102.5" font-family='"Liberation Serif", serif' font-size="13" fill="#151515" text-anchor="end"  stroke="#151515" stroke-width="0.18" transform="translate(0,-10.25) scale(1,1.1)">0.0004</text>
<text x="394" y="50.05" font-family='"Liberation Serif", serif' font-size="13" fill="#151515" text-anchor="end"  stroke="#151515" stroke-width="0.18" transform="translate(0,-5.01) scale(1,1.1)">0.0006</text>
<text x="348.7" y="32.5" font-family='"Liberation Serif", serif' font-size="23" font-weight="bold" fill="#111" text-anchor="start"  stroke="#111" stroke-width="0.45">(b)</text>
<text x="480.9" y="249.1" font-family='"Liberation Serif", serif' font-size="18.5" font-weight="bold" fill="#111" text-anchor="start"  stroke="#111" stroke-width="0.37">T(K)</text>
<g transform="translate(292.9,4.7)" fill="none" stroke="#111" stroke-linecap="round"><path d="M46.9 202.9 L59.3 209.5" stroke-width="2.3"/><path d="M49.3 211 C47.8 211.2 46.4 210.6 46.6 209.4 C46.8 208.4 47.8 208 48.8 207.6 L57 203.3 C58.6 202.5 59.6 201.6 59 200.9 C58.5 200.3 57.6 200.5 57.2 200.9" stroke-width="1.25"/></g>
<g transform="translate(348.6,215.7) rotate(-90) scale(1,1.12)"><text x="12.3" y="0" font-family='"Liberation Serif", serif' font-size="20" font-weight="bold" fill="#111" text-anchor="start"  stroke="#111" stroke-width="0.4">''</text><text x="27.7" y="0" font-family='"Liberation Serif", serif' font-size="20" font-weight="bold" fill="#111" text-anchor="start"  stroke="#111" stroke-width="0.4">(</text><text x="35.8" y="0" font-family='"Liberation Serif", serif' font-size="20" font-weight="bold" fill="#111" text-anchor="start"  stroke="#111" stroke-width="0.4">emu</text><text x="80.5" y="0" font-family='"Liberation Serif", serif' font-size="20" font-weight="bold" fill="#111" text-anchor="start"  stroke="#111" stroke-width="0.4">mol</text><text x="115.3" y="-11.5" font-family='"Liberation Serif", serif' font-size="12" font-weight="bold" fill="#111" text-anchor="start"  stroke="#111" stroke-width="0.24">-1</text><text x="131.4" y="0" font-family='"Liberation Serif", serif' font-size="20" font-weight="bold" fill="#111" text-anchor="start"  stroke="#111" stroke-width="0.4">Oe</text><text x="158" y="-11.5" font-family='"Liberation Serif", serif' font-size="12" font-weight="bold" fill="#111" text-anchor="start"  stroke="#111" stroke-width="0.24">-1</text><text x="168.6" y="0" font-family='"Liberation Serif", serif' font-size="20" font-weight="bold" fill="#111" text-anchor="start"  stroke="#111" stroke-width="0.4">)</text></g>
<text x="510.1" y="58.2" font-family='"Liberation Serif", serif' font-size="19.3" font-weight="bold" fill="#111" text-anchor="start"  stroke="#111" stroke-width="0.39">H = 10 Oe</text>
<line x1="525.4" y1="91.5" x2="553.8" y2="91.5" stroke="#000000" stroke-width="1.8"/>
<circle cx="539.6" cy="91.5" r="5.8" fill="#fff" stroke="#000000" stroke-width="2.2"/><circle cx="539.6" cy="91.5" r="1.3" fill="#000000"/>
<text x="556.2" y="95.8" font-family='"Liberation Serif", serif' font-size="12" font-weight="bold" fill="#111" text-anchor="start"  stroke="#111" stroke-width="0.24">533 Hz</text>
<line x1="525.4" y1="106.8" x2="553.8" y2="106.8" stroke="#ff0000" stroke-width="1.8"/>
<circle cx="539.6" cy="106.8" r="5.8" fill="#fff" stroke="#ff0000" stroke-width="2.2"/><circle cx="539.6" cy="106.8" r="1.3" fill="#ff0000"/>
<text x="556.2" y="111.1" font-family='"Liberation Serif", serif' font-size="12" font-weight="bold" fill="#111" text-anchor="start"  stroke="#111" stroke-width="0.24">937 Hz</text>
<line x1="525.4" y1="122.1" x2="553.8" y2="122.1" stroke="#0000ff" stroke-width="1.8"/>
<circle cx="539.6" cy="122.1" r="5.8" fill="#fff" stroke="#0000ff" stroke-width="2.2"/><circle cx="539.6" cy="122.1" r="1.3" fill="#0000ff"/>
<text x="556.2" y="126.4" font-family='"Liberation Serif", serif' font-size="12" font-weight="bold" fill="#111" text-anchor="start"  stroke="#111" stroke-width="0.24">2997 Hz</text>
<line x1="525.4" y1="137.4" x2="553.8" y2="137.4" stroke="#ff00ff" stroke-width="1.8"/>
<circle cx="539.6" cy="137.4" r="5.8" fill="#fff" stroke="#ff00ff" stroke-width="2.2"/><circle cx="539.6" cy="137.4" r="1.3" fill="#ff00ff"/>
<text x="556.2" y="141.7" font-family='"Liberation Serif", serif' font-size="12" font-weight="bold" fill="#111" text-anchor="start"  stroke="#111" stroke-width="0.24">4997 Hz</text>
<defs><clipPath id="bc"><rect x="399.3" y="20.3" width="221.7" height="195.6"/></clipPath></defs>
<g clip-path="url(#bc)">
<polyline points="402.5,150 403,166 405.5,172.5 409,178 413,182.5 418,185 424,187 430.5,189.4 436.3,189.9 438.7,195.3 442.6,191.4 446.4,178.8 441.1,159.6 445.5,160.6 449.5,158.9 450.63,156.17 452.16,156.38 453.53,153.38 454.71,152.75 456.32,151.5 457.49,150.09 458.93,148.5 460.26,147.81 461.86,145.28 463.12,142.25 464.46,140.49 465.62,137.92 467.19,135.28 468.56,133.9 470.01,131.97 470.94,129.23 472.39,127.6 473.86,125.19 475.27,122.72 476.58,120.66 478.23,115.66 479.28,107.54 480.42,96.76 482.12,85.18 483.4,68.87 484.99,53.57 485.95,67.75 487.29,87.19 488.93,105.49 490.21,116.41 491.41,121.65 492.69,130.33 493.98,136.52 495.62,142.73 496.74,146.63 498.34,151.41 499.46,156.35 500.9,159.33 502.35,161.87 503.98,164.8 505.11,166.51 506.36,169.63 508.11,173.42 508.79,179.73 510.72,183.59 512.01,187.92 513.16,191.55 514.66,193.78 516.2,196.25 517.34,196.34 518.7,198.61 520.03,200.8 521.31,201.46 522.87,202.53 524.46,201.78 525.46,203 526.82,206.09 527.95,203.93 529.65,204.3 531.04,203.06 532.41,203.6 533.44,204.87 535.05,203.91 536.22,204.39 537.7,204.48 538.91,202.79 540.61,204.79 541.59,203.42 543.03,204.36 544.17,205.82 545.91,204.47 547.26,204.92 548.73,204.88 550.11,206.01 551.24,204.44 552.51,204.63 553.89,204.84 555.41,205.27 556.55,205.73 558.03,204.79 559.36,203.31 560.83,203.51 562.32,204.97 563.74,205.47 564.97,206.09 566.22,206.21 567.57,205.21 568.84,205.45 570.4,204.63 571.47,205.01 573.08,204.92 574.23,204.48 575.7,202.97 577.01,206.21 578.26,204.91 580.07,205.65 581.31,204.98 582.33,207.4 583.93,205.31 585.49,205.77 586.62,204.25 587.94,205.02 589.22,204.46 590.53,205.07 591.95,205.49 593.55,205.43 594.76,206.43 596.21,204.02 597.37,205.36 598.7,205.82 599.93,203.71 601.7,205.7 602.67,205.31 604.47,204.38 605.45,204.31 606.84,203.91 608.27,204.14 609.71,207.09 610.9,206.05 612.59,203.5 613.79,205.34 615.09,206 616.43,205.65 617.8,205.28 619.1,207.21 620.56,204.51 622.22,206.66" fill="none" stroke="#000000" stroke-width="1.4" stroke-linejoin="round" />
<circle cx="402.5" cy="150" r="2.7" fill="#fff" stroke="#000000" stroke-width="1.35"/><circle cx="402.5" cy="150" r="0.7" fill="#000000"/><circle cx="403" cy="166" r="2.7" fill="#fff" stroke="#000000" stroke-width="1.35"/><circle cx="403" cy="166" r="0.7" fill="#000000"/><circle cx="405.5" cy="172.5" r="2.7" fill="#fff" stroke="#000000" stroke-width="1.35"/><circle cx="405.5" cy="172.5" r="0.7" fill="#000000"/><circle cx="409" cy="178" r="2.7" fill="#fff" stroke="#000000" stroke-width="1.35"/><circle cx="409" cy="178" r="0.7" fill="#000000"/><circle cx="413" cy="182.5" r="2.7" fill="#fff" stroke="#000000" stroke-width="1.35"/><circle cx="413" cy="182.5" r="0.7" fill="#000000"/><circle cx="418" cy="185" r="2.7" fill="#fff" stroke="#000000" stroke-width="1.35"/><circle cx="418" cy="185" r="0.7" fill="#000000"/><circle cx="424" cy="187" r="2.7" fill="#fff" stroke="#000000" stroke-width="1.35"/><circle cx="424" cy="187" r="0.7" fill="#000000"/><circle cx="430.5" cy="189.4" r="2.7" fill="#fff" stroke="#000000" stroke-width="1.35"/><circle cx="430.5" cy="189.4" r="0.7" fill="#000000"/><circle cx="436.3" cy="189.9" r="2.7" fill="#fff" stroke="#000000" stroke-width="1.35"/><circle cx="436.3" cy="189.9" r="0.7" fill="#000000"/><circle cx="438.7" cy="195.3" r="2.7" fill="#fff" stroke="#000000" stroke-width="1.35"/><circle cx="438.7" cy="195.3" r="0.7" fill="#000000"/><circle cx="442.6" cy="191.4" r="2.7" fill="#fff" stroke="#000000" stroke-width="1.35"/><circle cx="442.6" cy="191.4" r="0.7" fill="#000000"/><circle cx="446.4" cy="178.8" r="2.7" fill="#fff" stroke="#000000" stroke-width="1.35"/><circle cx="446.4" cy="178.8" r="0.7" fill="#000000"/><circle cx="441.1" cy="159.6" r="2.7" fill="#fff" stroke="#000000" stroke-width="1.35"/><circle cx="441.1" cy="159.6" r="0.7" fill="#000000"/><circle cx="445.5" cy="160.6" r="2.7" fill="#fff" stroke="#000000" stroke-width="1.35"/><circle cx="445.5" cy="160.6" r="0.7" fill="#000000"/><circle cx="449.5" cy="158.9" r="2.7" fill="#fff" stroke="#000000" stroke-width="1.35"/><circle cx="449.5" cy="158.9" r="0.7" fill="#000000"/><circle cx="450.63" cy="156.17" r="2.7" fill="#fff" stroke="#000000" stroke-width="1.35"/><circle cx="450.63" cy="156.17" r="0.7" fill="#000000"/><circle cx="452.16" cy="156.38" r="2.7" fill="#fff" stroke="#000000" stroke-width="1.35"/><circle cx="452.16" cy="156.38" r="0.7" fill="#000000"/><circle cx="453.53" cy="153.38" r="2.7" fill="#fff" stroke="#000000" stroke-width="1.35"/><circle cx="453.53" cy="153.38" r="0.7" fill="#000000"/><circle cx="454.71" cy="152.75" r="2.7" fill="#fff" stroke="#000000" stroke-width="1.35"/><circle cx="454.71" cy="152.75" r="0.7" fill="#000000"/><circle cx="456.32" cy="151.5" r="2.7" fill="#fff" stroke="#000000" stroke-width="1.35"/><circle cx="456.32" cy="151.5" r="0.7" fill="#000000"/><circle cx="457.49" cy="150.09" r="2.7" fill="#fff" stroke="#000000" stroke-width="1.35"/><circle cx="457.49" cy="150.09" r="0.7" fill="#000000"/><circle cx="458.93" cy="148.5" r="2.7" fill="#fff" stroke="#000000" stroke-width="1.35"/><circle cx="458.93" cy="148.5" r="0.7" fill="#000000"/><circle cx="460.26" cy="147.81" r="2.7" fill="#fff" stroke="#000000" stroke-width="1.35"/><circle cx="460.26" cy="147.81" r="0.7" fill="#000000"/><circle cx="461.86" cy="145.28" r="2.7" fill="#fff" stroke="#000000" stroke-width="1.35"/><circle cx="461.86" cy="145.28" r="0.7" fill="#000000"/><circle cx="463.12" cy="142.25" r="2.7" fill="#fff" stroke="#000000" stroke-width="1.35"/><circle cx="463.12" cy="142.25" r="0.7" fill="#000000"/><circle cx="464.46" cy="140.49" r="2.7" fill="#fff" stroke="#000000" stroke-width="1.35"/><circle cx="464.46" cy="140.49" r="0.7" fill="#000000"/><circle cx="465.62" cy="137.92" r="2.7" fill="#fff" stroke="#000000" stroke-width="1.35"/><circle cx="465.62" cy="137.92" r="0.7" fill="#000000"/><circle cx="467.19" cy="135.28" r="2.7" fill="#fff" stroke="#000000" stroke-width="1.35"/><circle cx="467.19" cy="135.28" r="0.7" fill="#000000"/><circle cx="468.56" cy="133.9" r="2.7" fill="#fff" stroke="#000000" stroke-width="1.35"/><circle cx="468.56" cy="133.9" r="0.7" fill="#000000"/><circle cx="470.01" cy="131.97" r="2.7" fill="#fff" stroke="#000000" stroke-width="1.35"/><circle cx="470.01" cy="131.97" r="0.7" fill="#000000"/><circle cx="470.94" cy="129.23" r="2.7" fill="#fff" stroke="#000000" stroke-width="1.35"/><circle cx="470.94" cy="129.23" r="0.7" fill="#000000"/><circle cx="472.39" cy="127.6" r="2.7" fill="#fff" stroke="#000000" stroke-width="1.35"/><circle cx="472.39" cy="127.6" r="0.7" fill="#000000"/><circle cx="473.86" cy="125.19" r="2.7" fill="#fff" stroke="#000000" stroke-width="1.35"/><circle cx="473.86" cy="125.19" r="0.7" fill="#000000"/><circle cx="475.27" cy="122.72" r="2.7" fill="#fff" stroke="#000000" stroke-width="1.35"/><circle cx="475.27" cy="122.72" r="0.7" fill="#000000"/><circle cx="476.58" cy="120.66" r="2.7" fill="#fff" stroke="#000000" stroke-width="1.35"/><circle cx="476.58" cy="120.66" r="0.7" fill="#000000"/><circle cx="478.23" cy="115.66" r="2.7" fill="#fff" stroke="#000000" stroke-width="1.35"/><circle cx="478.23" cy="115.66" r="0.7" fill="#000000"/><circle cx="479.28" cy="107.54" r="2.7" fill="#fff" stroke="#000000" stroke-width="1.35"/><circle cx="479.28" cy="107.54" r="0.7" fill="#000000"/><circle cx="480.42" cy="96.76" r="2.7" fill="#fff" stroke="#000000" stroke-width="1.35"/><circle cx="480.42" cy="96.76" r="0.7" fill="#000000"/><circle cx="482.12" cy="85.18" r="2.7" fill="#fff" stroke="#000000" stroke-width="1.35"/><circle cx="482.12" cy="85.18" r="0.7" fill="#000000"/><circle cx="483.4" cy="68.87" r="2.7" fill="#fff" stroke="#000000" stroke-width="1.35"/><circle cx="483.4" cy="68.87" r="0.7" fill="#000000"/><circle cx="484.99" cy="53.57" r="2.7" fill="#fff" stroke="#000000" stroke-width="1.35"/><circle cx="484.99" cy="53.57" r="0.7" fill="#000000"/><circle cx="485.95" cy="67.75" r="2.7" fill="#fff" stroke="#000000" stroke-width="1.35"/><circle cx="485.95" cy="67.75" r="0.7" fill="#000000"/><circle cx="487.29" cy="87.19" r="2.7" fill="#fff" stroke="#000000" stroke-width="1.35"/><circle cx="487.29" cy="87.19" r="0.7" fill="#000000"/><circle cx="488.93" cy="105.49" r="2.7" fill="#fff" stroke="#000000" stroke-width="1.35"/><circle cx="488.93" cy="105.49" r="0.7" fill="#000000"/><circle cx="490.21" cy="116.41" r="2.7" fill="#fff" stroke="#000000" stroke-width="1.35"/><circle cx="490.21" cy="116.41" r="0.7" fill="#000000"/><circle cx="491.41" cy="121.65" r="2.7" fill="#fff" stroke="#000000" stroke-width="1.35"/><circle cx="491.41" cy="121.65" r="0.7" fill="#000000"/><circle cx="492.69" cy="130.33" r="2.7" fill="#fff" stroke="#000000" stroke-width="1.35"/><circle cx="492.69" cy="130.33" r="0.7" fill="#000000"/><circle cx="493.98" cy="136.52" r="2.7" fill="#fff" stroke="#000000" stroke-width="1.35"/><circle cx="493.98" cy="136.52" r="0.7" fill="#000000"/><circle cx="495.62" cy="142.73" r="2.7" fill="#fff" stroke="#000000" stroke-width="1.35"/><circle cx="495.62" cy="142.73" r="0.7" fill="#000000"/><circle cx="496.74" cy="146.63" r="2.7" fill="#fff" stroke="#000000" stroke-width="1.35"/><circle cx="496.74" cy="146.63" r="0.7" fill="#000000"/><circle cx="498.34" cy="151.41" r="2.7" fill="#fff" stroke="#000000" stroke-width="1.35"/><circle cx="498.34" cy="151.41" r="0.7" fill="#000000"/><circle cx="499.46" cy="156.35" r="2.7" fill="#fff" stroke="#000000" stroke-width="1.35"/><circle cx="499.46" cy="156.35" r="0.7" fill="#000000"/><circle cx="500.9" cy="159.33" r="2.7" fill="#fff" stroke="#000000" stroke-width="1.35"/><circle cx="500.9" cy="159.33" r="0.7" fill="#000000"/><circle cx="502.35" cy="161.87" r="2.7" fill="#fff" stroke="#000000" stroke-width="1.35"/><circle cx="502.35" cy="161.87" r="0.7" fill="#000000"/><circle cx="503.98" cy="164.8" r="2.7" fill="#fff" stroke="#000000" stroke-width="1.35"/><circle cx="503.98" cy="164.8" r="0.7" fill="#000000"/><circle cx="505.11" cy="166.51" r="2.7" fill="#fff" stroke="#000000" stroke-width="1.35"/><circle cx="505.11" cy="166.51" r="0.7" fill="#000000"/><circle cx="506.36" cy="169.63" r="2.7" fill="#fff" stroke="#000000" stroke-width="1.35"/><circle cx="506.36" cy="169.63" r="0.7" fill="#000000"/><circle cx="508.11" cy="173.42" r="2.7" fill="#fff" stroke="#000000" stroke-width="1.35"/><circle cx="508.11" cy="173.42" r="0.7" fill="#000000"/><circle cx="508.79" cy="179.73" r="2.7" fill="#fff" stroke="#000000" stroke-width="1.35"/><circle cx="508.79" cy="179.73" r="0.7" fill="#000000"/><circle cx="510.72" cy="183.59" r="2.7" fill="#fff" stroke="#000000" stroke-width="1.35"/><circle cx="510.72" cy="183.59" r="0.7" fill="#000000"/><circle cx="512.01" cy="187.92" r="2.7" fill="#fff" stroke="#000000" stroke-width="1.35"/><circle cx="512.01" cy="187.92" r="0.7" fill="#000000"/><circle cx="513.16" cy="191.55" r="2.7" fill="#fff" stroke="#000000" stroke-width="1.35"/><circle cx="513.16" cy="191.55" r="0.7" fill="#000000"/><circle cx="514.66" cy="193.78" r="2.7" fill="#fff" stroke="#000000" stroke-width="1.35"/><circle cx="514.66" cy="193.78" r="0.7" fill="#000000"/><circle cx="516.2" cy="196.25" r="2.7" fill="#fff" stroke="#000000" stroke-width="1.35"/><circle cx="516.2" cy="196.25" r="0.7" fill="#000000"/><circle cx="517.34" cy="196.34" r="2.7" fill="#fff" stroke="#000000" stroke-width="1.35"/><circle cx="517.34" cy="196.34" r="0.7" fill="#000000"/><circle cx="518.7" cy="198.61" r="2.7" fill="#fff" stroke="#000000" stroke-width="1.35"/><circle cx="518.7" cy="198.61" r="0.7" fill="#000000"/><circle cx="520.03" cy="200.8" r="2.7" fill="#fff" stroke="#000000" stroke-width="1.35"/><circle cx="520.03" cy="200.8" r="0.7" fill="#000000"/><circle cx="521.31" cy="201.46" r="2.7" fill="#fff" stroke="#000000" stroke-width="1.35"/><circle cx="521.31" cy="201.46" r="0.7" fill="#000000"/><circle cx="522.87" cy="202.53" r="2.7" fill="#fff" stroke="#000000" stroke-width="1.35"/><circle cx="522.87" cy="202.53" r="0.7" fill="#000000"/><circle cx="524.46" cy="201.78" r="2.7" fill="#fff" stroke="#000000" stroke-width="1.35"/><circle cx="524.46" cy="201.78" r="0.7" fill="#000000"/><circle cx="525.46" cy="203" r="2.7" fill="#fff" stroke="#000000" stroke-width="1.35"/><circle cx="525.46" cy="203" r="0.7" fill="#000000"/><circle cx="526.82" cy="206.09" r="2.7" fill="#fff" stroke="#000000" stroke-width="1.35"/><circle cx="526.82" cy="206.09" r="0.7" fill="#000000"/><circle cx="527.95" cy="203.93" r="2.7" fill="#fff" stroke="#000000" stroke-width="1.35"/><circle cx="527.95" cy="203.93" r="0.7" fill="#000000"/><circle cx="529.65" cy="204.3" r="2.7" fill="#fff" stroke="#000000" stroke-width="1.35"/><circle cx="529.65" cy="204.3" r="0.7" fill="#000000"/><circle cx="531.04" cy="203.06" r="2.7" fill="#fff" stroke="#000000" stroke-width="1.35"/><circle cx="531.04" cy="203.06" r="0.7" fill="#000000"/><circle cx="532.41" cy="203.6" r="2.7" fill="#fff" stroke="#000000" stroke-width="1.35"/><circle cx="532.41" cy="203.6" r="0.7" fill="#000000"/><circle cx="533.44" cy="204.87" r="2.7" fill="#fff" stroke="#000000" stroke-width="1.35"/><circle cx="533.44" cy="204.87" r="0.7" fill="#000000"/><circle cx="535.05" cy="203.91" r="2.7" fill="#fff" stroke="#000000" stroke-width="1.35"/><circle cx="535.05" cy="203.91" r="0.7" fill="#000000"/><circle cx="536.22" cy="204.39" r="2.7" fill="#fff" stroke="#000000" stroke-width="1.35"/><circle cx="536.22" cy="204.39" r="0.7" fill="#000000"/><circle cx="537.7" cy="204.48" r="2.7" fill="#fff" stroke="#000000" stroke-width="1.35"/><circle cx="537.7" cy="204.48" r="0.7" fill="#000000"/><circle cx="538.91" cy="202.79" r="2.7" fill="#fff" stroke="#000000" stroke-width="1.35"/><circle cx="538.91" cy="202.79" r="0.7" fill="#000000"/><circle cx="540.61" cy="204.79" r="2.7" fill="#fff" stroke="#000000" stroke-width="1.35"/><circle cx="540.61" cy="204.79" r="0.7" fill="#000000"/><circle cx="541.59" cy="203.42" r="2.7" fill="#fff" stroke="#000000" stroke-width="1.35"/><circle cx="541.59" cy="203.42" r="0.7" fill="#000000"/><circle cx="543.03" cy="204.36" r="2.7" fill="#fff" stroke="#000000" stroke-width="1.35"/><circle cx="543.03" cy="204.36" r="0.7" fill="#000000"/><circle cx="544.17" cy="205.82" r="2.7" fill="#fff" stroke="#000000" stroke-width="1.35"/><circle cx="544.17" cy="205.82" r="0.7" fill="#000000"/><circle cx="545.91" cy="204.47" r="2.7" fill="#fff" stroke="#000000" stroke-width="1.35"/><circle cx="545.91" cy="204.47" r="0.7" fill="#000000"/><circle cx="547.26" cy="204.92" r="2.7" fill="#fff" stroke="#000000" stroke-width="1.35"/><circle cx="547.26" cy="204.92" r="0.7" fill="#000000"/><circle cx="548.73" cy="204.88" r="2.7" fill="#fff" stroke="#000000" stroke-width="1.35"/><circle cx="548.73" cy="204.88" r="0.7" fill="#000000"/><circle cx="550.11" cy="206.01" r="2.7" fill="#fff" stroke="#000000" stroke-width="1.35"/><circle cx="550.11" cy="206.01" r="0.7" fill="#000000"/><circle cx="551.24" cy="204.44" r="2.7" fill="#fff" stroke="#000000" stroke-width="1.35"/><circle cx="551.24" cy="204.44" r="0.7" fill="#000000"/><circle cx="552.51" cy="204.63" r="2.7" fill="#fff" stroke="#000000" stroke-width="1.35"/><circle cx="552.51" cy="204.63" r="0.7" fill="#000000"/><circle cx="553.89" cy="204.84" r="2.7" fill="#fff" stroke="#000000" stroke-width="1.35"/><circle cx="553.89" cy="204.84" r="0.7" fill="#000000"/><circle cx="555.41" cy="205.27" r="2.7" fill="#fff" stroke="#000000" stroke-width="1.35"/><circle cx="555.41" cy="205.27" r="0.7" fill="#000000"/><circle cx="556.55" cy="205.73" r="2.7" fill="#fff" stroke="#000000" stroke-width="1.35"/><circle cx="556.55" cy="205.73" r="0.7" fill="#000000"/><circle cx="558.03" cy="204.79" r="2.7" fill="#fff" stroke="#000000" stroke-width="1.35"/><circle cx="558.03" cy="204.79" r="0.7" fill="#000000"/><circle cx="559.36" cy="203.31" r="2.7" fill="#fff" stroke="#000000" stroke-width="1.35"/><circle cx="559.36" cy="203.31" r="0.7" fill="#000000"/><circle cx="560.83" cy="203.51" r="2.7" fill="#fff" stroke="#000000" stroke-width="1.35"/><circle cx="560.83" cy="203.51" r="0.7" fill="#000000"/><circle cx="562.32" cy="204.97" r="2.7" fill="#fff" stroke="#000000" stroke-width="1.35"/><circle cx="562.32" cy="204.97" r="0.7" fill="#000000"/><circle cx="563.74" cy="205.47" r="2.7" fill="#fff" stroke="#000000" stroke-width="1.35"/><circle cx="563.74" cy="205.47" r="0.7" fill="#000000"/><circle cx="564.97" cy="206.09" r="2.7" fill="#fff" stroke="#000000" stroke-width="1.35"/><circle cx="564.97" cy="206.09" r="0.7" fill="#000000"/><circle cx="566.22" cy="206.21" r="2.7" fill="#fff" stroke="#000000" stroke-width="1.35"/><circle cx="566.22" cy="206.21" r="0.7" fill="#000000"/><circle cx="567.57" cy="205.21" r="2.7" fill="#fff" stroke="#000000" stroke-width="1.35"/><circle cx="567.57" cy="205.21" r="0.7" fill="#000000"/><circle cx="568.84" cy="205.45" r="2.7" fill="#fff" stroke="#000000" stroke-width="1.35"/><circle cx="568.84" cy="205.45" r="0.7" fill="#000000"/><circle cx="570.4" cy="204.63" r="2.7" fill="#fff" stroke="#000000" stroke-width="1.35"/><circle cx="570.4" cy="204.63" r="0.7" fill="#000000"/><circle cx="571.47" cy="205.01" r="2.7" fill="#fff" stroke="#000000" stroke-width="1.35"/><circle cx="571.47" cy="205.01" r="0.7" fill="#000000"/><circle cx="573.08" cy="204.92" r="2.7" fill="#fff" stroke="#000000" stroke-width="1.35"/><circle cx="573.08" cy="204.92" r="0.7" fill="#000000"/><circle cx="574.23" cy="204.48" r="2.7" fill="#fff" stroke="#000000" stroke-width="1.35"/><circle cx="574.23" cy="204.48" r="0.7" fill="#000000"/><circle cx="575.7" cy="202.97" r="2.7" fill="#fff" stroke="#000000" stroke-width="1.35"/><circle cx="575.7" cy="202.97" r="0.7" fill="#000000"/><circle cx="577.01" cy="206.21" r="2.7" fill="#fff" stroke="#000000" stroke-width="1.35"/><circle cx="577.01" cy="206.21" r="0.7" fill="#000000"/><circle cx="578.26" cy="204.91" r="2.7" fill="#fff" stroke="#000000" stroke-width="1.35"/><circle cx="578.26" cy="204.91" r="0.7" fill="#000000"/><circle cx="580.07" cy="205.65" r="2.7" fill="#fff" stroke="#000000" stroke-width="1.35"/><circle cx="580.07" cy="205.65" r="0.7" fill="#000000"/><circle cx="581.31" cy="204.98" r="2.7" fill="#fff" stroke="#000000" stroke-width="1.35"/><circle cx="581.31" cy="204.98" r="0.7" fill="#000000"/><circle cx="582.33" cy="207.4" r="2.7" fill="#fff" stroke="#000000" stroke-width="1.35"/><circle cx="582.33" cy="207.4" r="0.7" fill="#000000"/><circle cx="583.93" cy="205.31" r="2.7" fill="#fff" stroke="#000000" stroke-width="1.35"/><circle cx="583.93" cy="205.31" r="0.7" fill="#000000"/><circle cx="585.49" cy="205.77" r="2.7" fill="#fff" stroke="#000000" stroke-width="1.35"/><circle cx="585.49" cy="205.77" r="0.7" fill="#000000"/><circle cx="586.62" cy="204.25" r="2.7" fill="#fff" stroke="#000000" stroke-width="1.35"/><circle cx="586.62" cy="204.25" r="0.7" fill="#000000"/><circle cx="587.94" cy="205.02" r="2.7" fill="#fff" stroke="#000000" stroke-width="1.35"/><circle cx="587.94" cy="205.02" r="0.7" fill="#000000"/><circle cx="589.22" cy="204.46" r="2.7" fill="#fff" stroke="#000000" stroke-width="1.35"/><circle cx="589.22" cy="204.46" r="0.7" fill="#000000"/><circle cx="590.53" cy="205.07" r="2.7" fill="#fff" stroke="#000000" stroke-width="1.35"/><circle cx="590.53" cy="205.07" r="0.7" fill="#000000"/><circle cx="591.95" cy="205.49" r="2.7" fill="#fff" stroke="#000000" stroke-width="1.35"/><circle cx="591.95" cy="205.49" r="0.7" fill="#000000"/><circle cx="593.55" cy="205.43" r="2.7" fill="#fff" stroke="#000000" stroke-width="1.35"/><circle cx="593.55" cy="205.43" r="0.7" fill="#000000"/><circle cx="594.76" cy="206.43" r="2.7" fill="#fff" stroke="#000000" stroke-width="1.35"/><circle cx="594.76" cy="206.43" r="0.7" fill="#000000"/><circle cx="596.21" cy="204.02" r="2.7" fill="#fff" stroke="#000000" stroke-width="1.35"/><circle cx="596.21" cy="204.02" r="0.7" fill="#000000"/><circle cx="597.37" cy="205.36" r="2.7" fill="#fff" stroke="#000000" stroke-width="1.35"/><circle cx="597.37" cy="205.36" r="0.7" fill="#000000"/><circle cx="598.7" cy="205.82" r="2.7" fill="#fff" stroke="#000000" stroke-width="1.35"/><circle cx="598.7" cy="205.82" r="0.7" fill="#000000"/><circle cx="599.93" cy="203.71" r="2.7" fill="#fff" stroke="#000000" stroke-width="1.35"/><circle cx="599.93" cy="203.71" r="0.7" fill="#000000"/><circle cx="601.7" cy="205.7" r="2.7" fill="#fff" stroke="#000000" stroke-width="1.35"/><circle cx="601.7" cy="205.7" r="0.7" fill="#000000"/><circle cx="602.67" cy="205.31" r="2.7" fill="#fff" stroke="#000000" stroke-width="1.35"/><circle cx="602.67" cy="205.31" r="0.7" fill="#000000"/><circle cx="604.47" cy="204.38" r="2.7" fill="#fff" stroke="#000000" stroke-width="1.35"/><circle cx="604.47" cy="204.38" r="0.7" fill="#000000"/><circle cx="605.45" cy="204.31" r="2.7" fill="#fff" stroke="#000000" stroke-width="1.35"/><circle cx="605.45" cy="204.31" r="0.7" fill="#000000"/><circle cx="606.84" cy="203.91" r="2.7" fill="#fff" stroke="#000000" stroke-width="1.35"/><circle cx="606.84" cy="203.91" r="0.7" fill="#000000"/><circle cx="608.27" cy="204.14" r="2.7" fill="#fff" stroke="#000000" stroke-width="1.35"/><circle cx="608.27" cy="204.14" r="0.7" fill="#000000"/><circle cx="609.71" cy="207.09" r="2.7" fill="#fff" stroke="#000000" stroke-width="1.35"/><circle cx="609.71" cy="207.09" r="0.7" fill="#000000"/><circle cx="610.9" cy="206.05" r="2.7" fill="#fff" stroke="#000000" stroke-width="1.35"/><circle cx="610.9" cy="206.05" r="0.7" fill="#000000"/><circle cx="612.59" cy="203.5" r="2.7" fill="#fff" stroke="#000000" stroke-width="1.35"/><circle cx="612.59" cy="203.5" r="0.7" fill="#000000"/><circle cx="613.79" cy="205.34" r="2.7" fill="#fff" stroke="#000000" stroke-width="1.35"/><circle cx="613.79" cy="205.34" r="0.7" fill="#000000"/><circle cx="615.09" cy="206" r="2.7" fill="#fff" stroke="#000000" stroke-width="1.35"/><circle cx="615.09" cy="206" r="0.7" fill="#000000"/><circle cx="616.43" cy="205.65" r="2.7" fill="#fff" stroke="#000000" stroke-width="1.35"/><circle cx="616.43" cy="205.65" r="0.7" fill="#000000"/><circle cx="617.8" cy="205.28" r="2.7" fill="#fff" stroke="#000000" stroke-width="1.35"/><circle cx="617.8" cy="205.28" r="0.7" fill="#000000"/><circle cx="619.1" cy="207.21" r="2.7" fill="#fff" stroke="#000000" stroke-width="1.35"/><circle cx="619.1" cy="207.21" r="0.7" fill="#000000"/><circle cx="620.56" cy="204.51" r="2.7" fill="#fff" stroke="#000000" stroke-width="1.35"/><circle cx="620.56" cy="204.51" r="0.7" fill="#000000"/><circle cx="622.22" cy="206.66" r="2.7" fill="#fff" stroke="#000000" stroke-width="1.35"/><circle cx="622.22" cy="206.66" r="0.7" fill="#000000"/>
<polyline points="402.6,125.1 403.8,152.4 404.8,164.5 407,170.5 410.5,175.5 415,179.5 420,182 426,183.5 432,184.5 438.2,184.1 443,180 446.9,175.9 451.1,154.39 452.91,153.51 453.76,152.19 455.01,150.17 456.54,149.06 457.94,147.92 458.89,145.28 460.39,142.39 461.87,141 463.39,138.18 464.57,136.62 466.08,133.15 467.56,131.26 468.87,129.48 469.97,126.89 471.38,127.19 472.65,124.67 474.32,121.47 475.65,118.52 476.78,111.01 478.37,101.31 479.88,89.59 480.73,74.4 482.08,59.05 483.73,45.63 484.84,40.09 486.28,56.91 487.55,78.25 488.97,96.31 490.85,112.67 491.68,120.7 492.85,127.96 494.66,133.75 495.8,139.72 497.28,144.44 498.44,149 499.86,153.81 501.3,157.46 502.38,160.01 503.94,162.78 505.34,165.64 506.48,169.43 508.22,172.27 509.54,176.27 510.6,181.27 512.4,186.89 513.27,190.2 514.78,192.41 516.29,193.45 517.31,195.22 519.12,198.05 520.21,198.81 521.77,201.45 522.91,201.56 524.76,202.7 525.7,203.23 527.12,203.84 528.52,202.93 529.8,203.73 531.07,203.54 532.4,204.58 534.15,202.88 535.39,203.82 536.63,203.53 538.02,204.65 539.14,204.71 540.65,202.95 542.04,204.42 543.4,204.15 544.72,203.48 546.29,203.16 547.64,204.25 548.8,203.79 550.16,203.97 551.55,203.9 552.62,202.27 554.33,203.53 555.55,203.93 556.82,205.38 558.35,203.96 559.55,204.86 561.19,205.38 562.57,203.49 563.59,205.32 565.04,204.11 566.48,204.63 567.95,203.38 569.12,202.81 570.67,204.13 571.68,205.13 573.3,203.44 574.59,203.8 576.03,204.47 577.29,204.66 578.33,204.03 580.19,205.11 581.58,203.47 582.55,204.06 584.52,204.57 585.41,202.98 586.91,204 588.32,204.53 589.24,204.28 591.08,203.9 592.13,203.44 593.47,206.21 595.25,203.91 596.61,203.55 597.67,203.82 599.08,204.98 600.78,205.06 601.81,204.6 603.15,204.78 604.41,204.7 605.97,205.28 607.14,204.86 608.66,203.86 609.68,204.08 611.47,204.32 613.05,205.02 613.94,204.49 615.48,204.98 616.74,204.97 618.59,205.36 619.52,204.23 620.57,204.77 622.14,204.59 619.5,207.5 621,212 622,214" fill="none" stroke="#ff0000" stroke-width="1.4" stroke-linejoin="round" />
<circle cx="402.6" cy="125.1" r="2.7" fill="#fff" stroke="#ff0000" stroke-width="1.35"/><circle cx="402.6" cy="125.1" r="0.7" fill="#ff0000"/><circle cx="403.8" cy="152.4" r="2.7" fill="#fff" stroke="#ff0000" stroke-width="1.35"/><circle cx="403.8" cy="152.4" r="0.7" fill="#ff0000"/><circle cx="404.8" cy="164.5" r="2.7" fill="#fff" stroke="#ff0000" stroke-width="1.35"/><circle cx="404.8" cy="164.5" r="0.7" fill="#ff0000"/><circle cx="407" cy="170.5" r="2.7" fill="#fff" stroke="#ff0000" stroke-width="1.35"/><circle cx="407" cy="170.5" r="0.7" fill="#ff0000"/><circle cx="410.5" cy="175.5" r="2.7" fill="#fff" stroke="#ff0000" stroke-width="1.35"/><circle cx="410.5" cy="175.5" r="0.7" fill="#ff0000"/><circle cx="415" cy="179.5" r="2.7" fill="#fff" stroke="#ff0000" stroke-width="1.35"/><circle cx="415" cy="179.5" r="0.7" fill="#ff0000"/><circle cx="420" cy="182" r="2.7" fill="#fff" stroke="#ff0000" stroke-width="1.35"/><circle cx="420" cy="182" r="0.7" fill="#ff0000"/><circle cx="426" cy="183.5" r="2.7" fill="#fff" stroke="#ff0000" stroke-width="1.35"/><circle cx="426" cy="183.5" r="0.7" fill="#ff0000"/><circle cx="432" cy="184.5" r="2.7" fill="#fff" stroke="#ff0000" stroke-width="1.35"/><circle cx="432" cy="184.5" r="0.7" fill="#ff0000"/><circle cx="438.2" cy="184.1" r="2.7" fill="#fff" stroke="#ff0000" stroke-width="1.35"/><circle cx="438.2" cy="184.1" r="0.7" fill="#ff0000"/><circle cx="443" cy="180" r="2.7" fill="#fff" stroke="#ff0000" stroke-width="1.35"/><circle cx="443" cy="180" r="0.7" fill="#ff0000"/><circle cx="446.9" cy="175.9" r="2.7" fill="#fff" stroke="#ff0000" stroke-width="1.35"/><circle cx="446.9" cy="175.9" r="0.7" fill="#ff0000"/><circle cx="451.1" cy="154.39" r="2.7" fill="#fff" stroke="#ff0000" stroke-width="1.35"/><circle cx="451.1" cy="154.39" r="0.7" fill="#ff0000"/><circle cx="452.91" cy="153.51" r="2.7" fill="#fff" stroke="#ff0000" stroke-width="1.35"/><circle cx="452.91" cy="153.51" r="0.7" fill="#ff0000"/><circle cx="453.76" cy="152.19" r="2.7" fill="#fff" stroke="#ff0000" stroke-width="1.35"/><circle cx="453.76" cy="152.19" r="0.7" fill="#ff0000"/><circle cx="455.01" cy="150.17" r="2.7" fill="#fff" stroke="#ff0000" stroke-width="1.35"/><circle cx="455.01" cy="150.17" r="0.7" fill="#ff0000"/><circle cx="456.54" cy="149.06" r="2.7" fill="#fff" stroke="#ff0000" stroke-width="1.35"/><circle cx="456.54" cy="149.06" r="0.7" fill="#ff0000"/><circle cx="457.94" cy="147.92" r="2.7" fill="#fff" stroke="#ff0000" stroke-width="1.35"/><circle cx="457.94" cy="147.92" r="0.7" fill="#ff0000"/><circle cx="458.89" cy="145.28" r="2.7" fill="#fff" stroke="#ff0000" stroke-width="1.35"/><circle cx="458.89" cy="145.28" r="0.7" fill="#ff0000"/><circle cx="460.39" cy="142.39" r="2.7" fill="#fff" stroke="#ff0000" stroke-width="1.35"/><circle cx="460.39" cy="142.39" r="0.7" fill="#ff0000"/><circle cx="461.87" cy="141" r="2.7" fill="#fff" stroke="#ff0000" stroke-width="1.35"/><circle cx="461.87" cy="141" r="0.7" fill="#ff0000"/><circle cx="463.39" cy="138.18" r="2.7" fill="#fff" stroke="#ff0000" stroke-width="1.35"/><circle cx="463.39" cy="138.18" r="0.7" fill="#ff0000"/><circle cx="464.57" cy="136.62" r="2.7" fill="#fff" stroke="#ff0000" stroke-width="1.35"/><circle cx="464.57" cy="136.62" r="0.7" fill="#ff0000"/><circle cx="466.08" cy="133.15" r="2.7" fill="#fff" stroke="#ff0000" stroke-width="1.35"/><circle cx="466.08" cy="133.15" r="0.7" fill="#ff0000"/><circle cx="467.56" cy="131.26" r="2.7" fill="#fff" stroke="#ff0000" stroke-width="1.35"/><circle cx="467.56" cy="131.26" r="0.7" fill="#ff0000"/><circle cx="468.87" cy="129.48" r="2.7" fill="#fff" stroke="#ff0000" stroke-width="1.35"/><circle cx="468.87" cy="129.48" r="0.7" fill="#ff0000"/><circle cx="469.97" cy="126.89" r="2.7" fill="#fff" stroke="#ff0000" stroke-width="1.35"/><circle cx="469.97" cy="126.89" r="0.7" fill="#ff0000"/><circle cx="471.38" cy="127.19" r="2.7" fill="#fff" stroke="#ff0000" stroke-width="1.35"/><circle cx="471.38" cy="127.19" r="0.7" fill="#ff0000"/><circle cx="472.65" cy="124.67" r="2.7" fill="#fff" stroke="#ff0000" stroke-width="1.35"/><circle cx="472.65" cy="124.67" r="0.7" fill="#ff0000"/><circle cx="474.32" cy="121.47" r="2.7" fill="#fff" stroke="#ff0000" stroke-width="1.35"/><circle cx="474.32" cy="121.47" r="0.7" fill="#ff0000"/><circle cx="475.65" cy="118.52" r="2.7" fill="#fff" stroke="#ff0000" stroke-width="1.35"/><circle cx="475.65" cy="118.52" r="0.7" fill="#ff0000"/><circle cx="476.78" cy="111.01" r="2.7" fill="#fff" stroke="#ff0000" stroke-width="1.35"/><circle cx="476.78" cy="111.01" r="0.7" fill="#ff0000"/><circle cx="478.37" cy="101.31" r="2.7" fill="#fff" stroke="#ff0000" stroke-width="1.35"/><circle cx="478.37" cy="101.31" r="0.7" fill="#ff0000"/><circle cx="479.88" cy="89.59" r="2.7" fill="#fff" stroke="#ff0000" stroke-width="1.35"/><circle cx="479.88" cy="89.59" r="0.7" fill="#ff0000"/><circle cx="480.73" cy="74.4" r="2.7" fill="#fff" stroke="#ff0000" stroke-width="1.35"/><circle cx="480.73" cy="74.4" r="0.7" fill="#ff0000"/><circle cx="482.08" cy="59.05" r="2.7" fill="#fff" stroke="#ff0000" stroke-width="1.35"/><circle cx="482.08" cy="59.05" r="0.7" fill="#ff0000"/><circle cx="483.73" cy="45.63" r="2.7" fill="#fff" stroke="#ff0000" stroke-width="1.35"/><circle cx="483.73" cy="45.63" r="0.7" fill="#ff0000"/><circle cx="484.84" cy="40.09" r="2.7" fill="#fff" stroke="#ff0000" stroke-width="1.35"/><circle cx="484.84" cy="40.09" r="0.7" fill="#ff0000"/><circle cx="486.28" cy="56.91" r="2.7" fill="#fff" stroke="#ff0000" stroke-width="1.35"/><circle cx="486.28" cy="56.91" r="0.7" fill="#ff0000"/><circle cx="487.55" cy="78.25" r="2.7" fill="#fff" stroke="#ff0000" stroke-width="1.35"/><circle cx="487.55" cy="78.25" r="0.7" fill="#ff0000"/><circle cx="488.97" cy="96.31" r="2.7" fill="#fff" stroke="#ff0000" stroke-width="1.35"/><circle cx="488.97" cy="96.31" r="0.7" fill="#ff0000"/><circle cx="490.85" cy="112.67" r="2.7" fill="#fff" stroke="#ff0000" stroke-width="1.35"/><circle cx="490.85" cy="112.67" r="0.7" fill="#ff0000"/><circle cx="491.68" cy="120.7" r="2.7" fill="#fff" stroke="#ff0000" stroke-width="1.35"/><circle cx="491.68" cy="120.7" r="0.7" fill="#ff0000"/><circle cx="492.85" cy="127.96" r="2.7" fill="#fff" stroke="#ff0000" stroke-width="1.35"/><circle cx="492.85" cy="127.96" r="0.7" fill="#ff0000"/><circle cx="494.66" cy="133.75" r="2.7" fill="#fff" stroke="#ff0000" stroke-width="1.35"/><circle cx="494.66" cy="133.75" r="0.7" fill="#ff0000"/><circle cx="495.8" cy="139.72" r="2.7" fill="#fff" stroke="#ff0000" stroke-width="1.35"/><circle cx="495.8" cy="139.72" r="0.7" fill="#ff0000"/><circle cx="497.28" cy="144.44" r="2.7" fill="#fff" stroke="#ff0000" stroke-width="1.35"/><circle cx="497.28" cy="144.44" r="0.7" fill="#ff0000"/><circle cx="498.44" cy="149" r="2.7" fill="#fff" stroke="#ff0000" stroke-width="1.35"/><circle cx="498.44" cy="149" r="0.7" fill="#ff0000"/><circle cx="499.86" cy="153.81" r="2.7" fill="#fff" stroke="#ff0000" stroke-width="1.35"/><circle cx="499.86" cy="153.81" r="0.7" fill="#ff0000"/><circle cx="501.3" cy="157.46" r="2.7" fill="#fff" stroke="#ff0000" stroke-width="1.35"/><circle cx="501.3" cy="157.46" r="0.7" fill="#ff0000"/><circle cx="502.38" cy="160.01" r="2.7" fill="#fff" stroke="#ff0000" stroke-width="1.35"/><circle cx="502.38" cy="160.01" r="0.7" fill="#ff0000"/><circle cx="503.94" cy="162.78" r="2.7" fill="#fff" stroke="#ff0000" stroke-width="1.35"/><circle cx="503.94" cy="162.78" r="0.7" fill="#ff0000"/><circle cx="505.34" cy="165.64" r="2.7" fill="#fff" stroke="#ff0000" stroke-width="1.35"/><circle cx="505.34" cy="165.64" r="0.7" fill="#ff0000"/><circle cx="506.48" cy="169.43" r="2.7" fill="#fff" stroke="#ff0000" stroke-width="1.35"/><circle cx="506.48" cy="169.43" r="0.7" fill="#ff0000"/><circle cx="508.22" cy="172.27" r="2.7" fill="#fff" stroke="#ff0000" stroke-width="1.35"/><circle cx="508.22" cy="172.27" r="0.7" fill="#ff0000"/><circle cx="509.54" cy="176.27" r="2.7" fill="#fff" stroke="#ff0000" stroke-width="1.35"/><circle cx="509.54" cy="176.27" r="0.7" fill="#ff0000"/><circle cx="510.6" cy="181.27" r="2.7" fill="#fff" stroke="#ff0000" stroke-width="1.35"/><circle cx="510.6" cy="181.27" r="0.7" fill="#ff0000"/><circle cx="512.4" cy="186.89" r="2.7" fill="#fff" stroke="#ff0000" stroke-width="1.35"/><circle cx="512.4" cy="186.89" r="0.7" fill="#ff0000"/><circle cx="513.27" cy="190.2" r="2.7" fill="#fff" stroke="#ff0000" stroke-width="1.35"/><circle cx="513.27" cy="190.2" r="0.7" fill="#ff0000"/><circle cx="514.78" cy="192.41" r="2.7" fill="#fff" stroke="#ff0000" stroke-width="1.35"/><circle cx="514.78" cy="192.41" r="0.7" fill="#ff0000"/><circle cx="516.29" cy="193.45" r="2.7" fill="#fff" stroke="#ff0000" stroke-width="1.35"/><circle cx="516.29" cy="193.45" r="0.7" fill="#ff0000"/><circle cx="517.31" cy="195.22" r="2.7" fill="#fff" stroke="#ff0000" stroke-width="1.35"/><circle cx="517.31" cy="195.22" r="0.7" fill="#ff0000"/><circle cx="519.12" cy="198.05" r="2.7" fill="#fff" stroke="#ff0000" stroke-width="1.35"/><circle cx="519.12" cy="198.05" r="0.7" fill="#ff0000"/><circle cx="520.21" cy="198.81" r="2.7" fill="#fff" stroke="#ff0000" stroke-width="1.35"/><circle cx="520.21" cy="198.81" r="0.7" fill="#ff0000"/><circle cx="521.77" cy="201.45" r="2.7" fill="#fff" stroke="#ff0000" stroke-width="1.35"/><circle cx="521.77" cy="201.45" r="0.7" fill="#ff0000"/><circle cx="522.91" cy="201.56" r="2.7" fill="#fff" stroke="#ff0000" stroke-width="1.35"/><circle cx="522.91" cy="201.56" r="0.7" fill="#ff0000"/><circle cx="524.76" cy="202.7" r="2.7" fill="#fff" stroke="#ff0000" stroke-width="1.35"/><circle cx="524.76" cy="202.7" r="0.7" fill="#ff0000"/><circle cx="525.7" cy="203.23" r="2.7" fill="#fff" stroke="#ff0000" stroke-width="1.35"/><circle cx="525.7" cy="203.23" r="0.7" fill="#ff0000"/><circle cx="527.12" cy="203.84" r="2.7" fill="#fff" stroke="#ff0000" stroke-width="1.35"/><circle cx="527.12" cy="203.84" r="0.7" fill="#ff0000"/><circle cx="528.52" cy="202.93" r="2.7" fill="#fff" stroke="#ff0000" stroke-width="1.35"/><circle cx="528.52" cy="202.93" r="0.7" fill="#ff0000"/><circle cx="529.8" cy="203.73" r="2.7" fill="#fff" stroke="#ff0000" stroke-width="1.35"/><circle cx="529.8" cy="203.73" r="0.7" fill="#ff0000"/><circle cx="531.07" cy="203.54" r="2.7" fill="#fff" stroke="#ff0000" stroke-width="1.35"/><circle cx="531.07" cy="203.54" r="0.7" fill="#ff0000"/><circle cx="532.4" cy="204.58" r="2.7" fill="#fff" stroke="#ff0000" stroke-width="1.35"/><circle cx="532.4" cy="204.58" r="0.7" fill="#ff0000"/><circle cx="534.15" cy="202.88" r="2.7" fill="#fff" stroke="#ff0000" stroke-width="1.35"/><circle cx="534.15" cy="202.88" r="0.7" fill="#ff0000"/><circle cx="535.39" cy="203.82" r="2.7" fill="#fff" stroke="#ff0000" stroke-width="1.35"/><circle cx="535.39" cy="203.82" r="0.7" fill="#ff0000"/><circle cx="536.63" cy="203.53" r="2.7" fill="#fff" stroke="#ff0000" stroke-width="1.35"/><circle cx="536.63" cy="203.53" r="0.7" fill="#ff0000"/><circle cx="538.02" cy="204.65" r="2.7" fill="#fff" stroke="#ff0000" stroke-width="1.35"/><circle cx="538.02" cy="204.65" r="0.7" fill="#ff0000"/><circle cx="539.14" cy="204.71" r="2.7" fill="#fff" stroke="#ff0000" stroke-width="1.35"/><circle cx="539.14" cy="204.71" r="0.7" fill="#ff0000"/><circle cx="540.65" cy="202.95" r="2.7" fill="#fff" stroke="#ff0000" stroke-width="1.35"/><circle cx="540.65" cy="202.95" r="0.7" fill="#ff0000"/><circle cx="542.04" cy="204.42" r="2.7" fill="#fff" stroke="#ff0000" stroke-width="1.35"/><circle cx="542.04" cy="204.42" r="0.7" fill="#ff0000"/><circle cx="543.4" cy="204.15" r="2.7" fill="#fff" stroke="#ff0000" stroke-width="1.35"/><circle cx="543.4" cy="204.15" r="0.7" fill="#ff0000"/><circle cx="544.72" cy="203.48" r="2.7" fill="#fff" stroke="#ff0000" stroke-width="1.35"/><circle cx="544.72" cy="203.48" r="0.7" fill="#ff0000"/><circle cx="546.29" cy="203.16" r="2.7" fill="#fff" stroke="#ff0000" stroke-width="1.35"/><circle cx="546.29" cy="203.16" r="0.7" fill="#ff0000"/><circle cx="547.64" cy="204.25" r="2.7" fill="#fff" stroke="#ff0000" stroke-width="1.35"/><circle cx="547.64" cy="204.25" r="0.7" fill="#ff0000"/><circle cx="548.8" cy="203.79" r="2.7" fill="#fff" stroke="#ff0000" stroke-width="1.35"/><circle cx="548.8" cy="203.79" r="0.7" fill="#ff0000"/><circle cx="550.16" cy="203.97" r="2.7" fill="#fff" stroke="#ff0000" stroke-width="1.35"/><circle cx="550.16" cy="203.97" r="0.7" fill="#ff0000"/><circle cx="551.55" cy="203.9" r="2.7" fill="#fff" stroke="#ff0000" stroke-width="1.35"/><circle cx="551.55" cy="203.9" r="0.7" fill="#ff0000"/><circle cx="552.62" cy="202.27" r="2.7" fill="#fff" stroke="#ff0000" stroke-width="1.35"/><circle cx="552.62" cy="202.27" r="0.7" fill="#ff0000"/><circle cx="554.33" cy="203.53" r="2.7" fill="#fff" stroke="#ff0000" stroke-width="1.35"/><circle cx="554.33" cy="203.53" r="0.7" fill="#ff0000"/><circle cx="555.55" cy="203.93" r="2.7" fill="#fff" stroke="#ff0000" stroke-width="1.35"/><circle cx="555.55" cy="203.93" r="0.7" fill="#ff0000"/><circle cx="556.82" cy="205.38" r="2.7" fill="#fff" stroke="#ff0000" stroke-width="1.35"/><circle cx="556.82" cy="205.38" r="0.7" fill="#ff0000"/><circle cx="558.35" cy="203.96" r="2.7" fill="#fff" stroke="#ff0000" stroke-width="1.35"/><circle cx="558.35" cy="203.96" r="0.7" fill="#ff0000"/><circle cx="559.55" cy="204.86" r="2.7" fill="#fff" stroke="#ff0000" stroke-width="1.35"/><circle cx="559.55" cy="204.86" r="0.7" fill="#ff0000"/><circle cx="561.19" cy="205.38" r="2.7" fill="#fff" stroke="#ff0000" stroke-width="1.35"/><circle cx="561.19" cy="205.38" r="0.7" fill="#ff0000"/><circle cx="562.57" cy="203.49" r="2.7" fill="#fff" stroke="#ff0000" stroke-width="1.35"/><circle cx="562.57" cy="203.49" r="0.7" fill="#ff0000"/><circle cx="563.59" cy="205.32" r="2.7" fill="#fff" stroke="#ff0000" stroke-width="1.35"/><circle cx="563.59" cy="205.32" r="0.7" fill="#ff0000"/><circle cx="565.04" cy="204.11" r="2.7" fill="#fff" stroke="#ff0000" stroke-width="1.35"/><circle cx="565.04" cy="204.11" r="0.7" fill="#ff0000"/><circle cx="566.48" cy="204.63" r="2.7" fill="#fff" stroke="#ff0000" stroke-width="1.35"/><circle cx="566.48" cy="204.63" r="0.7" fill="#ff0000"/><circle cx="567.95" cy="203.38" r="2.7" fill="#fff" stroke="#ff0000" stroke-width="1.35"/><circle cx="567.95" cy="203.38" r="0.7" fill="#ff0000"/><circle cx="569.12" cy="202.81" r="2.7" fill="#fff" stroke="#ff0000" stroke-width="1.35"/><circle cx="569.12" cy="202.81" r="0.7" fill="#ff0000"/><circle cx="570.67" cy="204.13" r="2.7" fill="#fff" stroke="#ff0000" stroke-width="1.35"/><circle cx="570.67" cy="204.13" r="0.7" fill="#ff0000"/><circle cx="571.68" cy="205.13" r="2.7" fill="#fff" stroke="#ff0000" stroke-width="1.35"/><circle cx="571.68" cy="205.13" r="0.7" fill="#ff0000"/><circle cx="573.3" cy="203.44" r="2.7" fill="#fff" stroke="#ff0000" stroke-width="1.35"/><circle cx="573.3" cy="203.44" r="0.7" fill="#ff0000"/><circle cx="574.59" cy="203.8" r="2.7" fill="#fff" stroke="#ff0000" stroke-width="1.35"/><circle cx="574.59" cy="203.8" r="0.7" fill="#ff0000"/><circle cx="576.03" cy="204.47" r="2.7" fill="#fff" stroke="#ff0000" stroke-width="1.35"/><circle cx="576.03" cy="204.47" r="0.7" fill="#ff0000"/><circle cx="577.29" cy="204.66" r="2.7" fill="#fff" stroke="#ff0000" stroke-width="1.35"/><circle cx="577.29" cy="204.66" r="0.7" fill="#ff0000"/><circle cx="578.33" cy="204.03" r="2.7" fill="#fff" stroke="#ff0000" stroke-width="1.35"/><circle cx="578.33" cy="204.03" r="0.7" fill="#ff0000"/><circle cx="580.19" cy="205.11" r="2.7" fill="#fff" stroke="#ff0000" stroke-width="1.35"/><circle cx="580.19" cy="205.11" r="0.7" fill="#ff0000"/><circle cx="581.58" cy="203.47" r="2.7" fill="#fff" stroke="#ff0000" stroke-width="1.35"/><circle cx="581.58" cy="203.47" r="0.7" fill="#ff0000"/><circle cx="582.55" cy="204.06" r="2.7" fill="#fff" stroke="#ff0000" stroke-width="1.35"/><circle cx="582.55" cy="204.06" r="0.7" fill="#ff0000"/><circle cx="584.52" cy="204.57" r="2.7" fill="#fff" stroke="#ff0000" stroke-width="1.35"/><circle cx="584.52" cy="204.57" r="0.7" fill="#ff0000"/><circle cx="585.41" cy="202.98" r="2.7" fill="#fff" stroke="#ff0000" stroke-width="1.35"/><circle cx="585.41" cy="202.98" r="0.7" fill="#ff0000"/><circle cx="586.91" cy="204" r="2.7" fill="#fff" stroke="#ff0000" stroke-width="1.35"/><circle cx="586.91" cy="204" r="0.7" fill="#ff0000"/><circle cx="588.32" cy="204.53" r="2.7" fill="#fff" stroke="#ff0000" stroke-width="1.35"/><circle cx="588.32" cy="204.53" r="0.7" fill="#ff0000"/><circle cx="589.24" cy="204.28" r="2.7" fill="#fff" stroke="#ff0000" stroke-width="1.35"/><circle cx="589.24" cy="204.28" r="0.7" fill="#ff0000"/><circle cx="591.08" cy="203.9" r="2.7" fill="#fff" stroke="#ff0000" stroke-width="1.35"/><circle cx="591.08" cy="203.9" r="0.7" fill="#ff0000"/><circle cx="592.13" cy="203.44" r="2.7" fill="#fff" stroke="#ff0000" stroke-width="1.35"/><circle cx="592.13" cy="203.44" r="0.7" fill="#ff0000"/><circle cx="593.47" cy="206.21" r="2.7" fill="#fff" stroke="#ff0000" stroke-width="1.35"/><circle cx="593.47" cy="206.21" r="0.7" fill="#ff0000"/><circle cx="595.25" cy="203.91" r="2.7" fill="#fff" stroke="#ff0000" stroke-width="1.35"/><circle cx="595.25" cy="203.91" r="0.7" fill="#ff0000"/><circle cx="596.61" cy="203.55" r="2.7" fill="#fff" stroke="#ff0000" stroke-width="1.35"/><circle cx="596.61" cy="203.55" r="0.7" fill="#ff0000"/><circle cx="597.67" cy="203.82" r="2.7" fill="#fff" stroke="#ff0000" stroke-width="1.35"/><circle cx="597.67" cy="203.82" r="0.7" fill="#ff0000"/><circle cx="599.08" cy="204.98" r="2.7" fill="#fff" stroke="#ff0000" stroke-width="1.35"/><circle cx="599.08" cy="204.98" r="0.7" fill="#ff0000"/><circle cx="600.78" cy="205.06" r="2.7" fill="#fff" stroke="#ff0000" stroke-width="1.35"/><circle cx="600.78" cy="205.06" r="0.7" fill="#ff0000"/><circle cx="601.81" cy="204.6" r="2.7" fill="#fff" stroke="#ff0000" stroke-width="1.35"/><circle cx="601.81" cy="204.6" r="0.7" fill="#ff0000"/><circle cx="603.15" cy="204.78" r="2.7" fill="#fff" stroke="#ff0000" stroke-width="1.35"/><circle cx="603.15" cy="204.78" r="0.7" fill="#ff0000"/><circle cx="604.41" cy="204.7" r="2.7" fill="#fff" stroke="#ff0000" stroke-width="1.35"/><circle cx="604.41" cy="204.7" r="0.7" fill="#ff0000"/><circle cx="605.97" cy="205.28" r="2.7" fill="#fff" stroke="#ff0000" stroke-width="1.35"/><circle cx="605.97" cy="205.28" r="0.7" fill="#ff0000"/><circle cx="607.14" cy="204.86" r="2.7" fill="#fff" stroke="#ff0000" stroke-width="1.35"/><circle cx="607.14" cy="204.86" r="0.7" fill="#ff0000"/><circle cx="608.66" cy="203.86" r="2.7" fill="#fff" stroke="#ff0000" stroke-width="1.35"/><circle cx="608.66" cy="203.86" r="0.7" fill="#ff0000"/><circle cx="609.68" cy="204.08" r="2.7" fill="#fff" stroke="#ff0000" stroke-width="1.35"/><circle cx="609.68" cy="204.08" r="0.7" fill="#ff0000"/><circle cx="611.47" cy="204.32" r="2.7" fill="#fff" stroke="#ff0000" stroke-width="1.35"/><circle cx="611.47" cy="204.32" r="0.7" fill="#ff0000"/><circle cx="613.05" cy="205.02" r="2.7" fill="#fff" stroke="#ff0000" stroke-width="1.35"/><circle cx="613.05" cy="205.02" r="0.7" fill="#ff0000"/><circle cx="613.94" cy="204.49" r="2.7" fill="#fff" stroke="#ff0000" stroke-width="1.35"/><circle cx="613.94" cy="204.49" r="0.7" fill="#ff0000"/><circle cx="615.48" cy="204.98" r="2.7" fill="#fff" stroke="#ff0000" stroke-width="1.35"/><circle cx="615.48" cy="204.98" r="0.7" fill="#ff0000"/><circle cx="616.74" cy="204.97" r="2.7" fill="#fff" stroke="#ff0000" stroke-width="1.35"/><circle cx="616.74" cy="204.97" r="0.7" fill="#ff0000"/><circle cx="618.59" cy="205.36" r="2.7" fill="#fff" stroke="#ff0000" stroke-width="1.35"/><circle cx="618.59" cy="205.36" r="0.7" fill="#ff0000"/><circle cx="619.52" cy="204.23" r="2.7" fill="#fff" stroke="#ff0000" stroke-width="1.35"/><circle cx="619.52" cy="204.23" r="0.7" fill="#ff0000"/><circle cx="620.57" cy="204.77" r="2.7" fill="#fff" stroke="#ff0000" stroke-width="1.35"/><circle cx="620.57" cy="204.77" r="0.7" fill="#ff0000"/><circle cx="622.14" cy="204.59" r="2.7" fill="#fff" stroke="#ff0000" stroke-width="1.35"/><circle cx="622.14" cy="204.59" r="0.7" fill="#ff0000"/><circle cx="619.5" cy="207.5" r="2.7" fill="#fff" stroke="#ff0000" stroke-width="1.35"/><circle cx="619.5" cy="207.5" r="0.7" fill="#ff0000"/><circle cx="621" cy="212" r="2.7" fill="#fff" stroke="#ff0000" stroke-width="1.35"/><circle cx="621" cy="212" r="0.7" fill="#ff0000"/><circle cx="622" cy="214" r="2.7" fill="#fff" stroke="#ff0000" stroke-width="1.35"/><circle cx="622" cy="214" r="0.7" fill="#ff0000"/>
<polyline points="403.4,88.7 404.9,128 406,146.4 407.2,155.3 408.2,159.1 410.6,164 412.5,166.9 415.4,168.3 419.8,167.9 423.5,173 427.1,166.4 430,176 434,174 438,171.5 443.46,161.6 444.54,160.68 445.72,159.06 447.14,157.92 448.63,157.16 449.96,155.87 451.35,153.97 452.61,152.04 453.76,151.29 455.33,150.24 456.76,148.02 457.97,146.82 459.58,144.97 460.81,142.03 461.96,139.76 463.49,137.92 464.64,135.38 466.1,132.45 467.53,130.52 469.01,129.31 470.35,126.48 471.72,125.03 473.14,122.98 474.14,120.18 475.67,115.79 477.07,108.02 478.49,95.39 479.82,83.57 481.23,66.84 482.59,52.61 483.57,42.83 484.95,37.7 486.81,44.61 488.12,58.69 489.6,80.37 490.53,97.24 492.17,111.31 492.97,120.45 494.76,127.27 496.27,134.52 497.5,140.28 498.74,145.23 500.53,148.96 501.57,153.98 502.83,157.52 504.01,160.23 505.63,164 507.12,165.74 508.18,170.24 509.83,171.64 511.01,176.36 512.33,180.27 513.71,186.23 515.1,189.93 516.53,190.36 517.59,192.5 519.38,194.96 520.48,196.29 521.99,195.71 523.35,196.87 524.48,197.2 526.03,199.39 527.21,199 528.73,198.97 529.9,200.21 531.64,200.58 532.87,200.55 534.24,200.18 535.47,199.55 536.83,198.46 538.17,198.47 539.43,199.19 540.86,201.45 542.58,200.58 543.79,198.85 545.07,198.34 546.29,199.22 547.69,200.46 548.99,201.88 550.39,200.49 551.58,200.56 553,199.93 554.54,200.52 555.99,200.14 557.23,201.58 558.55,199.84 559.9,199.97 561.19,199.49 562.77,199.36 564.12,199.37 565.62,199.8 567.03,200.39 568.11,200.81 569.66,201.36 571.05,200.8 572.02,200.84 573.55,200.37 575.11,199.36 576.48,202.19 577.72,199.75 579.2,200.21 580.51,201.19 581.48,200.35 582.84,199.43 584.52,198.99 585.68,199.67 587.19,200.41 588.57,199.64 589.75,200.48 591.09,199.38 592.68,199.4 593.8,201.15 595.29,198.12 596.54,201.91 598.44,199.89 599.48,200.83 600.78,198.53 602.24,200.44 603.41,198.73 604.71,200.11 606.13,200.43 607.46,201.14 608.98,199.2 610.15,200.64 611.51,201.53 612.88,200.5 614.41,199.27 615.86,200.11 616.92,199.69 618.14,199.1 619.97,200.22 621.07,200.53 622.55,199.64" fill="none" stroke="#0000ff" stroke-width="1.4" stroke-linejoin="round" />
<circle cx="403.4" cy="88.7" r="2.7" fill="#fff" stroke="#0000ff" stroke-width="1.35"/><circle cx="403.4" cy="88.7" r="0.7" fill="#0000ff"/><circle cx="404.9" cy="128" r="2.7" fill="#fff" stroke="#0000ff" stroke-width="1.35"/><circle cx="404.9" cy="128" r="0.7" fill="#0000ff"/><circle cx="406" cy="146.4" r="2.7" fill="#fff" stroke="#0000ff" stroke-width="1.35"/><circle cx="406" cy="146.4" r="0.7" fill="#0000ff"/><circle cx="407.2" cy="155.3" r="2.7" fill="#fff" stroke="#0000ff" stroke-width="1.35"/><circle cx="407.2" cy="155.3" r="0.7" fill="#0000ff"/><circle cx="408.2" cy="159.1" r="2.7" fill="#fff" stroke="#0000ff" stroke-width="1.35"/><circle cx="408.2" cy="159.1" r="0.7" fill="#0000ff"/><circle cx="410.6" cy="164" r="2.7" fill="#fff" stroke="#0000ff" stroke-width="1.35"/><circle cx="410.6" cy="164" r="0.7" fill="#0000ff"/><circle cx="412.5" cy="166.9" r="2.7" fill="#fff" stroke="#0000ff" stroke-width="1.35"/><circle cx="412.5" cy="166.9" r="0.7" fill="#0000ff"/><circle cx="415.4" cy="168.3" r="2.7" fill="#fff" stroke="#0000ff" stroke-width="1.35"/><circle cx="415.4" cy="168.3" r="0.7" fill="#0000ff"/><circle cx="419.8" cy="167.9" r="2.7" fill="#fff" stroke="#0000ff" stroke-width="1.35"/><circle cx="419.8" cy="167.9" r="0.7" fill="#0000ff"/><circle cx="423.5" cy="173" r="2.7" fill="#fff" stroke="#0000ff" stroke-width="1.35"/><circle cx="423.5" cy="173" r="0.7" fill="#0000ff"/><circle cx="427.1" cy="166.4" r="2.7" fill="#fff" stroke="#0000ff" stroke-width="1.35"/><circle cx="427.1" cy="166.4" r="0.7" fill="#0000ff"/><circle cx="430" cy="176" r="2.7" fill="#fff" stroke="#0000ff" stroke-width="1.35"/><circle cx="430" cy="176" r="0.7" fill="#0000ff"/><circle cx="434" cy="174" r="2.7" fill="#fff" stroke="#0000ff" stroke-width="1.35"/><circle cx="434" cy="174" r="0.7" fill="#0000ff"/><circle cx="438" cy="171.5" r="2.7" fill="#fff" stroke="#0000ff" stroke-width="1.35"/><circle cx="438" cy="171.5" r="0.7" fill="#0000ff"/><circle cx="443.46" cy="161.6" r="2.7" fill="#fff" stroke="#0000ff" stroke-width="1.35"/><circle cx="443.46" cy="161.6" r="0.7" fill="#0000ff"/><circle cx="444.54" cy="160.68" r="2.7" fill="#fff" stroke="#0000ff" stroke-width="1.35"/><circle cx="444.54" cy="160.68" r="0.7" fill="#0000ff"/><circle cx="445.72" cy="159.06" r="2.7" fill="#fff" stroke="#0000ff" stroke-width="1.35"/><circle cx="445.72" cy="159.06" r="0.7" fill="#0000ff"/><circle cx="447.14" cy="157.92" r="2.7" fill="#fff" stroke="#0000ff" stroke-width="1.35"/><circle cx="447.14" cy="157.92" r="0.7" fill="#0000ff"/><circle cx="448.63" cy="157.16" r="2.7" fill="#fff" stroke="#0000ff" stroke-width="1.35"/><circle cx="448.63" cy="157.16" r="0.7" fill="#0000ff"/><circle cx="449.96" cy="155.87" r="2.7" fill="#fff" stroke="#0000ff" stroke-width="1.35"/><circle cx="449.96" cy="155.87" r="0.7" fill="#0000ff"/><circle cx="451.35" cy="153.97" r="2.7" fill="#fff" stroke="#0000ff" stroke-width="1.35"/><circle cx="451.35" cy="153.97" r="0.7" fill="#0000ff"/><circle cx="452.61" cy="152.04" r="2.7" fill="#fff" stroke="#0000ff" stroke-width="1.35"/><circle cx="452.61" cy="152.04" r="0.7" fill="#0000ff"/><circle cx="453.76" cy="151.29" r="2.7" fill="#fff" stroke="#0000ff" stroke-width="1.35"/><circle cx="453.76" cy="151.29" r="0.7" fill="#0000ff"/><circle cx="455.33" cy="150.24" r="2.7" fill="#fff" stroke="#0000ff" stroke-width="1.35"/><circle cx="455.33" cy="150.24" r="0.7" fill="#0000ff"/><circle cx="456.76" cy="148.02" r="2.7" fill="#fff" stroke="#0000ff" stroke-width="1.35"/><circle cx="456.76" cy="148.02" r="0.7" fill="#0000ff"/><circle cx="457.97" cy="146.82" r="2.7" fill="#fff" stroke="#0000ff" stroke-width="1.35"/><circle cx="457.97" cy="146.82" r="0.7" fill="#0000ff"/><circle cx="459.58" cy="144.97" r="2.7" fill="#fff" stroke="#0000ff" stroke-width="1.35"/><circle cx="459.58" cy="144.97" r="0.7" fill="#0000ff"/><circle cx="460.81" cy="142.03" r="2.7" fill="#fff" stroke="#0000ff" stroke-width="1.35"/><circle cx="460.81" cy="142.03" r="0.7" fill="#0000ff"/><circle cx="461.96" cy="139.76" r="2.7" fill="#fff" stroke="#0000ff" stroke-width="1.35"/><circle cx="461.96" cy="139.76" r="0.7" fill="#0000ff"/><circle cx="463.49" cy="137.92" r="2.7" fill="#fff" stroke="#0000ff" stroke-width="1.35"/><circle cx="463.49" cy="137.92" r="0.7" fill="#0000ff"/><circle cx="464.64" cy="135.38" r="2.7" fill="#fff" stroke="#0000ff" stroke-width="1.35"/><circle cx="464.64" cy="135.38" r="0.7" fill="#0000ff"/><circle cx="466.1" cy="132.45" r="2.7" fill="#fff" stroke="#0000ff" stroke-width="1.35"/><circle cx="466.1" cy="132.45" r="0.7" fill="#0000ff"/><circle cx="467.53" cy="130.52" r="2.7" fill="#fff" stroke="#0000ff" stroke-width="1.35"/><circle cx="467.53" cy="130.52" r="0.7" fill="#0000ff"/><circle cx="469.01" cy="129.31" r="2.7" fill="#fff" stroke="#0000ff" stroke-width="1.35"/><circle cx="469.01" cy="129.31" r="0.7" fill="#0000ff"/><circle cx="470.35" cy="126.48" r="2.7" fill="#fff" stroke="#0000ff" stroke-width="1.35"/><circle cx="470.35" cy="126.48" r="0.7" fill="#0000ff"/><circle cx="471.72" cy="125.03" r="2.7" fill="#fff" stroke="#0000ff" stroke-width="1.35"/><circle cx="471.72" cy="125.03" r="0.7" fill="#0000ff"/><circle cx="473.14" cy="122.98" r="2.7" fill="#fff" stroke="#0000ff" stroke-width="1.35"/><circle cx="473.14" cy="122.98" r="0.7" fill="#0000ff"/><circle cx="474.14" cy="120.18" r="2.7" fill="#fff" stroke="#0000ff" stroke-width="1.35"/><circle cx="474.14" cy="120.18" r="0.7" fill="#0000ff"/><circle cx="475.67" cy="115.79" r="2.7" fill="#fff" stroke="#0000ff" stroke-width="1.35"/><circle cx="475.67" cy="115.79" r="0.7" fill="#0000ff"/><circle cx="477.07" cy="108.02" r="2.7" fill="#fff" stroke="#0000ff" stroke-width="1.35"/><circle cx="477.07" cy="108.02" r="0.7" fill="#0000ff"/><circle cx="478.49" cy="95.39" r="2.7" fill="#fff" stroke="#0000ff" stroke-width="1.35"/><circle cx="478.49" cy="95.39" r="0.7" fill="#0000ff"/><circle cx="479.82" cy="83.57" r="2.7" fill="#fff" stroke="#0000ff" stroke-width="1.35"/><circle cx="479.82" cy="83.57" r="0.7" fill="#0000ff"/><circle cx="481.23" cy="66.84" r="2.7" fill="#fff" stroke="#0000ff" stroke-width="1.35"/><circle cx="481.23" cy="66.84" r="0.7" fill="#0000ff"/><circle cx="482.59" cy="52.61" r="2.7" fill="#fff" stroke="#0000ff" stroke-width="1.35"/><circle cx="482.59" cy="52.61" r="0.7" fill="#0000ff"/><circle cx="483.57" cy="42.83" r="2.7" fill="#fff" stroke="#0000ff" stroke-width="1.35"/><circle cx="483.57" cy="42.83" r="0.7" fill="#0000ff"/><circle cx="484.95" cy="37.7" r="2.7" fill="#fff" stroke="#0000ff" stroke-width="1.35"/><circle cx="484.95" cy="37.7" r="0.7" fill="#0000ff"/><circle cx="486.81" cy="44.61" r="2.7" fill="#fff" stroke="#0000ff" stroke-width="1.35"/><circle cx="486.81" cy="44.61" r="0.7" fill="#0000ff"/><circle cx="488.12" cy="58.69" r="2.7" fill="#fff" stroke="#0000ff" stroke-width="1.35"/><circle cx="488.12" cy="58.69" r="0.7" fill="#0000ff"/><circle cx="489.6" cy="80.37" r="2.7" fill="#fff" stroke="#0000ff" stroke-width="1.35"/><circle cx="489.6" cy="80.37" r="0.7" fill="#0000ff"/><circle cx="490.53" cy="97.24" r="2.7" fill="#fff" stroke="#0000ff" stroke-width="1.35"/><circle cx="490.53" cy="97.24" r="0.7" fill="#0000ff"/><circle cx="492.17" cy="111.31" r="2.7" fill="#fff" stroke="#0000ff" stroke-width="1.35"/><circle cx="492.17" cy="111.31" r="0.7" fill="#0000ff"/><circle cx="492.97" cy="120.45" r="2.7" fill="#fff" stroke="#0000ff" stroke-width="1.35"/><circle cx="492.97" cy="120.45" r="0.7" fill="#0000ff"/><circle cx="494.76" cy="127.27" r="2.7" fill="#fff" stroke="#0000ff" stroke-width="1.35"/><circle cx="494.76" cy="127.27" r="0.7" fill="#0000ff"/><circle cx="496.27" cy="134.52" r="2.7" fill="#fff" stroke="#0000ff" stroke-width="1.35"/><circle cx="496.27" cy="134.52" r="0.7" fill="#0000ff"/><circle cx="497.5" cy="140.28" r="2.7" fill="#fff" stroke="#0000ff" stroke-width="1.35"/><circle cx="497.5" cy="140.28" r="0.7" fill="#0000ff"/><circle cx="498.74" cy="145.23" r="2.7" fill="#fff" stroke="#0000ff" stroke-width="1.35"/><circle cx="498.74" cy="145.23" r="0.7" fill="#0000ff"/><circle cx="500.53" cy="148.96" r="2.7" fill="#fff" stroke="#0000ff" stroke-width="1.35"/><circle cx="500.53" cy="148.96" r="0.7" fill="#0000ff"/><circle cx="501.57" cy="153.98" r="2.7" fill="#fff" stroke="#0000ff" stroke-width="1.35"/><circle cx="501.57" cy="153.98" r="0.7" fill="#0000ff"/><circle cx="502.83" cy="157.52" r="2.7" fill="#fff" stroke="#0000ff" stroke-width="1.35"/><circle cx="502.83" cy="157.52" r="0.7" fill="#0000ff"/><circle cx="504.01" cy="160.23" r="2.7" fill="#fff" stroke="#0000ff" stroke-width="1.35"/><circle cx="504.01" cy="160.23" r="0.7" fill="#0000ff"/><circle cx="505.63" cy="164" r="2.7" fill="#fff" stroke="#0000ff" stroke-width="1.35"/><circle cx="505.63" cy="164" r="0.7" fill="#0000ff"/><circle cx="507.12" cy="165.74" r="2.7" fill="#fff" stroke="#0000ff" stroke-width="1.35"/><circle cx="507.12" cy="165.74" r="0.7" fill="#0000ff"/><circle cx="508.18" cy="170.24" r="2.7" fill="#fff" stroke="#0000ff" stroke-width="1.35"/><circle cx="508.18" cy="170.24" r="0.7" fill="#0000ff"/><circle cx="509.83" cy="171.64" r="2.7" fill="#fff" stroke="#0000ff" stroke-width="1.35"/><circle cx="509.83" cy="171.64" r="0.7" fill="#0000ff"/><circle cx="511.01" cy="176.36" r="2.7" fill="#fff" stroke="#0000ff" stroke-width="1.35"/><circle cx="511.01" cy="176.36" r="0.7" fill="#0000ff"/><circle cx="512.33" cy="180.27" r="2.7" fill="#fff" stroke="#0000ff" stroke-width="1.35"/><circle cx="512.33" cy="180.27" r="0.7" fill="#0000ff"/><circle cx="513.71" cy="186.23" r="2.7" fill="#fff" stroke="#0000ff" stroke-width="1.35"/><circle cx="513.71" cy="186.23" r="0.7" fill="#0000ff"/><circle cx="515.1" cy="189.93" r="2.7" fill="#fff" stroke="#0000ff" stroke-width="1.35"/><circle cx="515.1" cy="189.93" r="0.7" fill="#0000ff"/><circle cx="516.53" cy="190.36" r="2.7" fill="#fff" stroke="#0000ff" stroke-width="1.35"/><circle cx="516.53" cy="190.36" r="0.7" fill="#0000ff"/><circle cx="517.59" cy="192.5" r="2.7" fill="#fff" stroke="#0000ff" stroke-width="1.35"/><circle cx="517.59" cy="192.5" r="0.7" fill="#0000ff"/><circle cx="519.38" cy="194.96" r="2.7" fill="#fff" stroke="#0000ff" stroke-width="1.35"/><circle cx="519.38" cy="194.96" r="0.7" fill="#0000ff"/><circle cx="520.48" cy="196.29" r="2.7" fill="#fff" stroke="#0000ff" stroke-width="1.35"/><circle cx="520.48" cy="196.29" r="0.7" fill="#0000ff"/><circle cx="521.99" cy="195.71" r="2.7" fill="#fff" stroke="#0000ff" stroke-width="1.35"/><circle cx="521.99" cy="195.71" r="0.7" fill="#0000ff"/><circle cx="523.35" cy="196.87" r="2.7" fill="#fff" stroke="#0000ff" stroke-width="1.35"/><circle cx="523.35" cy="196.87" r="0.7" fill="#0000ff"/><circle cx="524.48" cy="197.2" r="2.7" fill="#fff" stroke="#0000ff" stroke-width="1.35"/><circle cx="524.48" cy="197.2" r="0.7" fill="#0000ff"/><circle cx="526.03" cy="199.39" r="2.7" fill="#fff" stroke="#0000ff" stroke-width="1.35"/><circle cx="526.03" cy="199.39" r="0.7" fill="#0000ff"/><circle cx="527.21" cy="199" r="2.7" fill="#fff" stroke="#0000ff" stroke-width="1.35"/><circle cx="527.21" cy="199" r="0.7" fill="#0000ff"/><circle cx="528.73" cy="198.97" r="2.7" fill="#fff" stroke="#0000ff" stroke-width="1.35"/><circle cx="528.73" cy="198.97" r="0.7" fill="#0000ff"/><circle cx="529.9" cy="200.21" r="2.7" fill="#fff" stroke="#0000ff" stroke-width="1.35"/><circle cx="529.9" cy="200.21" r="0.7" fill="#0000ff"/><circle cx="531.64" cy="200.58" r="2.7" fill="#fff" stroke="#0000ff" stroke-width="1.35"/><circle cx="531.64" cy="200.58" r="0.7" fill="#0000ff"/><circle cx="532.87" cy="200.55" r="2.7" fill="#fff" stroke="#0000ff" stroke-width="1.35"/><circle cx="532.87" cy="200.55" r="0.7" fill="#0000ff"/><circle cx="534.24" cy="200.18" r="2.7" fill="#fff" stroke="#0000ff" stroke-width="1.35"/><circle cx="534.24" cy="200.18" r="0.7" fill="#0000ff"/><circle cx="535.47" cy="199.55" r="2.7" fill="#fff" stroke="#0000ff" stroke-width="1.35"/><circle cx="535.47" cy="199.55" r="0.7" fill="#0000ff"/><circle cx="536.83" cy="198.46" r="2.7" fill="#fff" stroke="#0000ff" stroke-width="1.35"/><circle cx="536.83" cy="198.46" r="0.7" fill="#0000ff"/><circle cx="538.17" cy="198.47" r="2.7" fill="#fff" stroke="#0000ff" stroke-width="1.35"/><circle cx="538.17" cy="198.47" r="0.7" fill="#0000ff"/><circle cx="539.43" cy="199.19" r="2.7" fill="#fff" stroke="#0000ff" stroke-width="1.35"/><circle cx="539.43" cy="199.19" r="0.7" fill="#0000ff"/><circle cx="540.86" cy="201.45" r="2.7" fill="#fff" stroke="#0000ff" stroke-width="1.35"/><circle cx="540.86" cy="201.45" r="0.7" fill="#0000ff"/><circle cx="542.58" cy="200.58" r="2.7" fill="#fff" stroke="#0000ff" stroke-width="1.35"/><circle cx="542.58" cy="200.58" r="0.7" fill="#0000ff"/><circle cx="543.79" cy="198.85" r="2.7" fill="#fff" stroke="#0000ff" stroke-width="1.35"/><circle cx="543.79" cy="198.85" r="0.7" fill="#0000ff"/><circle cx="545.07" cy="198.34" r="2.7" fill="#fff" stroke="#0000ff" stroke-width="1.35"/><circle cx="545.07" cy="198.34" r="0.7" fill="#0000ff"/><circle cx="546.29" cy="199.22" r="2.7" fill="#fff" stroke="#0000ff" stroke-width="1.35"/><circle cx="546.29" cy="199.22" r="0.7" fill="#0000ff"/><circle cx="547.69" cy="200.46" r="2.7" fill="#fff" stroke="#0000ff" stroke-width="1.35"/><circle cx="547.69" cy="200.46" r="0.7" fill="#0000ff"/><circle cx="548.99" cy="201.88" r="2.7" fill="#fff" stroke="#0000ff" stroke-width="1.35"/><circle cx="548.99" cy="201.88" r="0.7" fill="#0000ff"/><circle cx="550.39" cy="200.49" r="2.7" fill="#fff" stroke="#0000ff" stroke-width="1.35"/><circle cx="550.39" cy="200.49" r="0.7" fill="#0000ff"/><circle cx="551.58" cy="200.56" r="2.7" fill="#fff" stroke="#0000ff" stroke-width="1.35"/><circle cx="551.58" cy="200.56" r="0.7" fill="#0000ff"/><circle cx="553" cy="199.93" r="2.7" fill="#fff" stroke="#0000ff" stroke-width="1.35"/><circle cx="553" cy="199.93" r="0.7" fill="#0000ff"/><circle cx="554.54" cy="200.52" r="2.7" fill="#fff" stroke="#0000ff" stroke-width="1.35"/><circle cx="554.54" cy="200.52" r="0.7" fill="#0000ff"/><circle cx="555.99" cy="200.14" r="2.7" fill="#fff" stroke="#0000ff" stroke-width="1.35"/><circle cx="555.99" cy="200.14" r="0.7" fill="#0000ff"/><circle cx="557.23" cy="201.58" r="2.7" fill="#fff" stroke="#0000ff" stroke-width="1.35"/><circle cx="557.23" cy="201.58" r="0.7" fill="#0000ff"/><circle cx="558.55" cy="199.84" r="2.7" fill="#fff" stroke="#0000ff" stroke-width="1.35"/><circle cx="558.55" cy="199.84" r="0.7" fill="#0000ff"/><circle cx="559.9" cy="199.97" r="2.7" fill="#fff" stroke="#0000ff" stroke-width="1.35"/><circle cx="559.9" cy="199.97" r="0.7" fill="#0000ff"/><circle cx="561.19" cy="199.49" r="2.7" fill="#fff" stroke="#0000ff" stroke-width="1.35"/><circle cx="561.19" cy="199.49" r="0.7" fill="#0000ff"/><circle cx="562.77" cy="199.36" r="2.7" fill="#fff" stroke="#0000ff" stroke-width="1.35"/><circle cx="562.77" cy="199.36" r="0.7" fill="#0000ff"/><circle cx="564.12" cy="199.37" r="2.7" fill="#fff" stroke="#0000ff" stroke-width="1.35"/><circle cx="564.12" cy="199.37" r="0.7" fill="#0000ff"/><circle cx="565.62" cy="199.8" r="2.7" fill="#fff" stroke="#0000ff" stroke-width="1.35"/><circle cx="565.62" cy="199.8" r="0.7" fill="#0000ff"/><circle cx="567.03" cy="200.39" r="2.7" fill="#fff" stroke="#0000ff" stroke-width="1.35"/><circle cx="567.03" cy="200.39" r="0.7" fill="#0000ff"/><circle cx="568.11" cy="200.81" r="2.7" fill="#fff" stroke="#0000ff" stroke-width="1.35"/><circle cx="568.11" cy="200.81" r="0.7" fill="#0000ff"/><circle cx="569.66" cy="201.36" r="2.7" fill="#fff" stroke="#0000ff" stroke-width="1.35"/><circle cx="569.66" cy="201.36" r="0.7" fill="#0000ff"/><circle cx="571.05" cy="200.8" r="2.7" fill="#fff" stroke="#0000ff" stroke-width="1.35"/><circle cx="571.05" cy="200.8" r="0.7" fill="#0000ff"/><circle cx="572.02" cy="200.84" r="2.7" fill="#fff" stroke="#0000ff" stroke-width="1.35"/><circle cx="572.02" cy="200.84" r="0.7" fill="#0000ff"/><circle cx="573.55" cy="200.37" r="2.7" fill="#fff" stroke="#0000ff" stroke-width="1.35"/><circle cx="573.55" cy="200.37" r="0.7" fill="#0000ff"/><circle cx="575.11" cy="199.36" r="2.7" fill="#fff" stroke="#0000ff" stroke-width="1.35"/><circle cx="575.11" cy="199.36" r="0.7" fill="#0000ff"/><circle cx="576.48" cy="202.19" r="2.7" fill="#fff" stroke="#0000ff" stroke-width="1.35"/><circle cx="576.48" cy="202.19" r="0.7" fill="#0000ff"/><circle cx="577.72" cy="199.75" r="2.7" fill="#fff" stroke="#0000ff" stroke-width="1.35"/><circle cx="577.72" cy="199.75" r="0.7" fill="#0000ff"/><circle cx="579.2" cy="200.21" r="2.7" fill="#fff" stroke="#0000ff" stroke-width="1.35"/><circle cx="579.2" cy="200.21" r="0.7" fill="#0000ff"/><circle cx="580.51" cy="201.19" r="2.7" fill="#fff" stroke="#0000ff" stroke-width="1.35"/><circle cx="580.51" cy="201.19" r="0.7" fill="#0000ff"/><circle cx="581.48" cy="200.35" r="2.7" fill="#fff" stroke="#0000ff" stroke-width="1.35"/><circle cx="581.48" cy="200.35" r="0.7" fill="#0000ff"/><circle cx="582.84" cy="199.43" r="2.7" fill="#fff" stroke="#0000ff" stroke-width="1.35"/><circle cx="582.84" cy="199.43" r="0.7" fill="#0000ff"/><circle cx="584.52" cy="198.99" r="2.7" fill="#fff" stroke="#0000ff" stroke-width="1.35"/><circle cx="584.52" cy="198.99" r="0.7" fill="#0000ff"/><circle cx="585.68" cy="199.67" r="2.7" fill="#fff" stroke="#0000ff" stroke-width="1.35"/><circle cx="585.68" cy="199.67" r="0.7" fill="#0000ff"/><circle cx="587.19" cy="200.41" r="2.7" fill="#fff" stroke="#0000ff" stroke-width="1.35"/><circle cx="587.19" cy="200.41" r="0.7" fill="#0000ff"/><circle cx="588.57" cy="199.64" r="2.7" fill="#fff" stroke="#0000ff" stroke-width="1.35"/><circle cx="588.57" cy="199.64" r="0.7" fill="#0000ff"/><circle cx="589.75" cy="200.48" r="2.7" fill="#fff" stroke="#0000ff" stroke-width="1.35"/><circle cx="589.75" cy="200.48" r="0.7" fill="#0000ff"/><circle cx="591.09" cy="199.38" r="2.7" fill="#fff" stroke="#0000ff" stroke-width="1.35"/><circle cx="591.09" cy="199.38" r="0.7" fill="#0000ff"/><circle cx="592.68" cy="199.4" r="2.7" fill="#fff" stroke="#0000ff" stroke-width="1.35"/><circle cx="592.68" cy="199.4" r="0.7" fill="#0000ff"/><circle cx="593.8" cy="201.15" r="2.7" fill="#fff" stroke="#0000ff" stroke-width="1.35"/><circle cx="593.8" cy="201.15" r="0.7" fill="#0000ff"/><circle cx="595.29" cy="198.12" r="2.7" fill="#fff" stroke="#0000ff" stroke-width="1.35"/><circle cx="595.29" cy="198.12" r="0.7" fill="#0000ff"/><circle cx="596.54" cy="201.91" r="2.7" fill="#fff" stroke="#0000ff" stroke-width="1.35"/><circle cx="596.54" cy="201.91" r="0.7" fill="#0000ff"/><circle cx="598.44" cy="199.89" r="2.7" fill="#fff" stroke="#0000ff" stroke-width="1.35"/><circle cx="598.44" cy="199.89" r="0.7" fill="#0000ff"/><circle cx="599.48" cy="200.83" r="2.7" fill="#fff" stroke="#0000ff" stroke-width="1.35"/><circle cx="599.48" cy="200.83" r="0.7" fill="#0000ff"/><circle cx="600.78" cy="198.53" r="2.7" fill="#fff" stroke="#0000ff" stroke-width="1.35"/><circle cx="600.78" cy="198.53" r="0.7" fill="#0000ff"/><circle cx="602.24" cy="200.44" r="2.7" fill="#fff" stroke="#0000ff" stroke-width="1.35"/><circle cx="602.24" cy="200.44" r="0.7" fill="#0000ff"/><circle cx="603.41" cy="198.73" r="2.7" fill="#fff" stroke="#0000ff" stroke-width="1.35"/><circle cx="603.41" cy="198.73" r="0.7" fill="#0000ff"/><circle cx="604.71" cy="200.11" r="2.7" fill="#fff" stroke="#0000ff" stroke-width="1.35"/><circle cx="604.71" cy="200.11" r="0.7" fill="#0000ff"/><circle cx="606.13" cy="200.43" r="2.7" fill="#fff" stroke="#0000ff" stroke-width="1.35"/><circle cx="606.13" cy="200.43" r="0.7" fill="#0000ff"/><circle cx="607.46" cy="201.14" r="2.7" fill="#fff" stroke="#0000ff" stroke-width="1.35"/><circle cx="607.46" cy="201.14" r="0.7" fill="#0000ff"/><circle cx="608.98" cy="199.2" r="2.7" fill="#fff" stroke="#0000ff" stroke-width="1.35"/><circle cx="608.98" cy="199.2" r="0.7" fill="#0000ff"/><circle cx="610.15" cy="200.64" r="2.7" fill="#fff" stroke="#0000ff" stroke-width="1.35"/><circle cx="610.15" cy="200.64" r="0.7" fill="#0000ff"/><circle cx="611.51" cy="201.53" r="2.7" fill="#fff" stroke="#0000ff" stroke-width="1.35"/><circle cx="611.51" cy="201.53" r="0.7" fill="#0000ff"/><circle cx="612.88" cy="200.5" r="2.7" fill="#fff" stroke="#0000ff" stroke-width="1.35"/><circle cx="612.88" cy="200.5" r="0.7" fill="#0000ff"/><circle cx="614.41" cy="199.27" r="2.7" fill="#fff" stroke="#0000ff" stroke-width="1.35"/><circle cx="614.41" cy="199.27" r="0.7" fill="#0000ff"/><circle cx="615.86" cy="200.11" r="2.7" fill="#fff" stroke="#0000ff" stroke-width="1.35"/><circle cx="615.86" cy="200.11" r="0.7" fill="#0000ff"/><circle cx="616.92" cy="199.69" r="2.7" fill="#fff" stroke="#0000ff" stroke-width="1.35"/><circle cx="616.92" cy="199.69" r="0.7" fill="#0000ff"/><circle cx="618.14" cy="199.1" r="2.7" fill="#fff" stroke="#0000ff" stroke-width="1.35"/><circle cx="618.14" cy="199.1" r="0.7" fill="#0000ff"/><circle cx="619.97" cy="200.22" r="2.7" fill="#fff" stroke="#0000ff" stroke-width="1.35"/><circle cx="619.97" cy="200.22" r="0.7" fill="#0000ff"/><circle cx="621.07" cy="200.53" r="2.7" fill="#fff" stroke="#0000ff" stroke-width="1.35"/><circle cx="621.07" cy="200.53" r="0.7" fill="#0000ff"/><circle cx="622.55" cy="199.64" r="2.7" fill="#fff" stroke="#0000ff" stroke-width="1.35"/><circle cx="622.55" cy="199.64" r="0.7" fill="#0000ff"/>
<polyline points="405.8,170.8 406.7,175.4 410,178.5 414,181.2 416.4,176.4 419.3,170.3 420.8,176.4 422.2,185.6 424.6,190.4 427.1,169.8 430,186 431.4,171.3 433.4,185.6 434.3,164 435.3,180.7 438.2,178.3 438.7,165.9 440.6,169.3 442.1,174.9 445.11,159.95 446.75,161.59 447.97,159.05 449.46,157.34 450.75,156.19 451.93,153.13 453.05,153.29 454.76,151.55 455.67,150.13 457.39,148.36 458.64,149.12 460.34,145.99 461.53,142.72 462.78,141 464.06,137.93 465.82,134.78 466.78,134.32 468.33,131.25 469.49,128.23 471.18,125.47 472.42,124.81 473.69,121.82 475.21,121.59 476.47,116.57 477.56,109.45 479.22,98 479.98,85.69 481.87,69.59 483.23,55.87 484.56,45.1 485.84,39.04 487.33,49.35 488.37,73.88 490.01,92.59 491.22,108.44 492.81,118.04 494.05,125.57 495.32,132.37 496.56,138.58 498.6,143.77 499.45,147.02 500.69,152.05 502.11,156.72 503.62,159.99 504.92,162.93 506.54,164.53 507.65,167.76 509.01,172.11 510.33,174.58 511.53,178.28 513.09,184.73 514.47,186.92 515.8,188.74 517.35,191.68 518.78,193.26 520,192.5 521.34,194.09 522.53,195.32 524.24,196.24 525.66,197 526.47,196.28 528.36,197.89 529.43,196.84 530.8,197.86 532.06,197.41 533.54,196.37 534.81,196.82 536.11,196.71 537.47,196.86 539.21,197.62 540.35,197.01 541.67,198.36 543.26,199.77 544.29,199.84 545.73,199.26 547.07,198.75 548.43,196.54 549.89,197.68 551.14,198.31 552.6,200.7 553.71,197.54 555.08,199.42 556.55,197.48 558.03,198.22 559.4,196.57 560.67,198.8 561.94,199.5 563.37,197.37 564.68,198.78 566.27,197.72 567.55,197.89 568.68,197.22 570.3,197.81 571.56,200.04 573.05,197.87 574.21,198.59 575.28,199.02 576.86,199.1 578.22,197.97 579.82,199.03 581.33,197.86 582.31,199.94 583.85,197.14 585.05,198.81 586.4,196.85 587.85,198.86 589.4,199.56 590.68,197.54 591.72,197.34 593.36,199.36 594.33,199.01 596.13,200.03 597.47,199.45 598.74,198.14 600.04,198.41 601.24,198.35 602.94,198.14 604.34,197.57 605.57,197.67 607.02,199.27 608.37,199.38 609.65,199.72 610.96,195.96 612.31,199.1 613.29,199.81 615,199.67 616.32,198.79 617.59,198.35 618.83,198.88 620.38,197.94 621.68,197.61" fill="none" stroke="#ff00ff" stroke-width="1.4" stroke-linejoin="round" />
<circle cx="405.8" cy="170.8" r="2.7" fill="#fff" stroke="#ff00ff" stroke-width="1.35"/><circle cx="405.8" cy="170.8" r="0.7" fill="#ff00ff"/><circle cx="406.7" cy="175.4" r="2.7" fill="#fff" stroke="#ff00ff" stroke-width="1.35"/><circle cx="406.7" cy="175.4" r="0.7" fill="#ff00ff"/><circle cx="410" cy="178.5" r="2.7" fill="#fff" stroke="#ff00ff" stroke-width="1.35"/><circle cx="410" cy="178.5" r="0.7" fill="#ff00ff"/><circle cx="414" cy="181.2" r="2.7" fill="#fff" stroke="#ff00ff" stroke-width="1.35"/><circle cx="414" cy="181.2" r="0.7" fill="#ff00ff"/><circle cx="416.4" cy="176.4" r="2.7" fill="#fff" stroke="#ff00ff" stroke-width="1.35"/><circle cx="416.4" cy="176.4" r="0.7" fill="#ff00ff"/><circle cx="419.3" cy="170.3" r="2.7" fill="#fff" stroke="#ff00ff" stroke-width="1.35"/><circle cx="419.3" cy="170.3" r="0.7" fill="#ff00ff"/><circle cx="420.8" cy="176.4" r="2.7" fill="#fff" stroke="#ff00ff" stroke-width="1.35"/><circle cx="420.8" cy="176.4" r="0.7" fill="#ff00ff"/><circle cx="422.2" cy="185.6" r="2.7" fill="#fff" stroke="#ff00ff" stroke-width="1.35"/><circle cx="422.2" cy="185.6" r="0.7" fill="#ff00ff"/><circle cx="424.6" cy="190.4" r="2.7" fill="#fff" stroke="#ff00ff" stroke-width="1.35"/><circle cx="424.6" cy="190.4" r="0.7" fill="#ff00ff"/><circle cx="427.1" cy="169.8" r="2.7" fill="#fff" stroke="#ff00ff" stroke-width="1.35"/><circle cx="427.1" cy="169.8" r="0.7" fill="#ff00ff"/><circle cx="430" cy="186" r="2.7" fill="#fff" stroke="#ff00ff" stroke-width="1.35"/><circle cx="430" cy="186" r="0.7" fill="#ff00ff"/><circle cx="431.4" cy="171.3" r="2.7" fill="#fff" stroke="#ff00ff" stroke-width="1.35"/><circle cx="431.4" cy="171.3" r="0.7" fill="#ff00ff"/><circle cx="433.4" cy="185.6" r="2.7" fill="#fff" stroke="#ff00ff" stroke-width="1.35"/><circle cx="433.4" cy="185.6" r="0.7" fill="#ff00ff"/><circle cx="434.3" cy="164" r="2.7" fill="#fff" stroke="#ff00ff" stroke-width="1.35"/><circle cx="434.3" cy="164" r="0.7" fill="#ff00ff"/><circle cx="435.3" cy="180.7" r="2.7" fill="#fff" stroke="#ff00ff" stroke-width="1.35"/><circle cx="435.3" cy="180.7" r="0.7" fill="#ff00ff"/><circle cx="438.2" cy="178.3" r="2.7" fill="#fff" stroke="#ff00ff" stroke-width="1.35"/><circle cx="438.2" cy="178.3" r="0.7" fill="#ff00ff"/><circle cx="438.7" cy="165.9" r="2.7" fill="#fff" stroke="#ff00ff" stroke-width="1.35"/><circle cx="438.7" cy="165.9" r="0.7" fill="#ff00ff"/><circle cx="440.6" cy="169.3" r="2.7" fill="#fff" stroke="#ff00ff" stroke-width="1.35"/><circle cx="440.6" cy="169.3" r="0.7" fill="#ff00ff"/><circle cx="442.1" cy="174.9" r="2.7" fill="#fff" stroke="#ff00ff" stroke-width="1.35"/><circle cx="442.1" cy="174.9" r="0.7" fill="#ff00ff"/><circle cx="445.11" cy="159.95" r="2.7" fill="#fff" stroke="#ff00ff" stroke-width="1.35"/><circle cx="445.11" cy="159.95" r="0.7" fill="#ff00ff"/><circle cx="446.75" cy="161.59" r="2.7" fill="#fff" stroke="#ff00ff" stroke-width="1.35"/><circle cx="446.75" cy="161.59" r="0.7" fill="#ff00ff"/><circle cx="447.97" cy="159.05" r="2.7" fill="#fff" stroke="#ff00ff" stroke-width="1.35"/><circle cx="447.97" cy="159.05" r="0.7" fill="#ff00ff"/><circle cx="449.46" cy="157.34" r="2.7" fill="#fff" stroke="#ff00ff" stroke-width="1.35"/><circle cx="449.46" cy="157.34" r="0.7" fill="#ff00ff"/><circle cx="450.75" cy="156.19" r="2.7" fill="#fff" stroke="#ff00ff" stroke-width="1.35"/><circle cx="450.75" cy="156.19" r="0.7" fill="#ff00ff"/><circle cx="451.93" cy="153.13" r="2.7" fill="#fff" stroke="#ff00ff" stroke-width="1.35"/><circle cx="451.93" cy="153.13" r="0.7" fill="#ff00ff"/><circle cx="453.05" cy="153.29" r="2.7" fill="#fff" stroke="#ff00ff" stroke-width="1.35"/><circle cx="453.05" cy="153.29" r="0.7" fill="#ff00ff"/><circle cx="454.76" cy="151.55" r="2.7" fill="#fff" stroke="#ff00ff" stroke-width="1.35"/><circle cx="454.76" cy="151.55" r="0.7" fill="#ff00ff"/><circle cx="455.67" cy="150.13" r="2.7" fill="#fff" stroke="#ff00ff" stroke-width="1.35"/><circle cx="455.67" cy="150.13" r="0.7" fill="#ff00ff"/><circle cx="457.39" cy="148.36" r="2.7" fill="#fff" stroke="#ff00ff" stroke-width="1.35"/><circle cx="457.39" cy="148.36" r="0.7" fill="#ff00ff"/><circle cx="458.64" cy="149.12" r="2.7" fill="#fff" stroke="#ff00ff" stroke-width="1.35"/><circle cx="458.64" cy="149.12" r="0.7" fill="#ff00ff"/><circle cx="460.34" cy="145.99" r="2.7" fill="#fff" stroke="#ff00ff" stroke-width="1.35"/><circle cx="460.34" cy="145.99" r="0.7" fill="#ff00ff"/><circle cx="461.53" cy="142.72" r="2.7" fill="#fff" stroke="#ff00ff" stroke-width="1.35"/><circle cx="461.53" cy="142.72" r="0.7" fill="#ff00ff"/><circle cx="462.78" cy="141" r="2.7" fill="#fff" stroke="#ff00ff" stroke-width="1.35"/><circle cx="462.78" cy="141" r="0.7" fill="#ff00ff"/><circle cx="464.06" cy="137.93" r="2.7" fill="#fff" stroke="#ff00ff" stroke-width="1.35"/><circle cx="464.06" cy="137.93" r="0.7" fill="#ff00ff"/><circle cx="465.82" cy="134.78" r="2.7" fill="#fff" stroke="#ff00ff" stroke-width="1.35"/><circle cx="465.82" cy="134.78" r="0.7" fill="#ff00ff"/><circle cx="466.78" cy="134.32" r="2.7" fill="#fff" stroke="#ff00ff" stroke-width="1.35"/><circle cx="466.78" cy="134.32" r="0.7" fill="#ff00ff"/><circle cx="468.33" cy="131.25" r="2.7" fill="#fff" stroke="#ff00ff" stroke-width="1.35"/><circle cx="468.33" cy="131.25" r="0.7" fill="#ff00ff"/><circle cx="469.49" cy="128.23" r="2.7" fill="#fff" stroke="#ff00ff" stroke-width="1.35"/><circle cx="469.49" cy="128.23" r="0.7" fill="#ff00ff"/><circle cx="471.18" cy="125.47" r="2.7" fill="#fff" stroke="#ff00ff" stroke-width="1.35"/><circle cx="471.18" cy="125.47" r="0.7" fill="#ff00ff"/><circle cx="472.42" cy="124.81" r="2.7" fill="#fff" stroke="#ff00ff" stroke-width="1.35"/><circle cx="472.42" cy="124.81" r="0.7" fill="#ff00ff"/><circle cx="473.69" cy="121.82" r="2.7" fill="#fff" stroke="#ff00ff" stroke-width="1.35"/><circle cx="473.69" cy="121.82" r="0.7" fill="#ff00ff"/><circle cx="475.21" cy="121.59" r="2.7" fill="#fff" stroke="#ff00ff" stroke-width="1.35"/><circle cx="475.21" cy="121.59" r="0.7" fill="#ff00ff"/><circle cx="476.47" cy="116.57" r="2.7" fill="#fff" stroke="#ff00ff" stroke-width="1.35"/><circle cx="476.47" cy="116.57" r="0.7" fill="#ff00ff"/><circle cx="477.56" cy="109.45" r="2.7" fill="#fff" stroke="#ff00ff" stroke-width="1.35"/><circle cx="477.56" cy="109.45" r="0.7" fill="#ff00ff"/><circle cx="479.22" cy="98" r="2.7" fill="#fff" stroke="#ff00ff" stroke-width="1.35"/><circle cx="479.22" cy="98" r="0.7" fill="#ff00ff"/><circle cx="479.98" cy="85.69" r="2.7" fill="#fff" stroke="#ff00ff" stroke-width="1.35"/><circle cx="479.98" cy="85.69" r="0.7" fill="#ff00ff"/><circle cx="481.87" cy="69.59" r="2.7" fill="#fff" stroke="#ff00ff" stroke-width="1.35"/><circle cx="481.87" cy="69.59" r="0.7" fill="#ff00ff"/><circle cx="483.23" cy="55.87" r="2.7" fill="#fff" stroke="#ff00ff" stroke-width="1.35"/><circle cx="483.23" cy="55.87" r="0.7" fill="#ff00ff"/><circle cx="484.56" cy="45.1" r="2.7" fill="#fff" stroke="#ff00ff" stroke-width="1.35"/><circle cx="484.56" cy="45.1" r="0.7" fill="#ff00ff"/><circle cx="485.84" cy="39.04" r="2.7" fill="#fff" stroke="#ff00ff" stroke-width="1.35"/><circle cx="485.84" cy="39.04" r="0.7" fill="#ff00ff"/><circle cx="487.33" cy="49.35" r="2.7" fill="#fff" stroke="#ff00ff" stroke-width="1.35"/><circle cx="487.33" cy="49.35" r="0.7" fill="#ff00ff"/><circle cx="488.37" cy="73.88" r="2.7" fill="#fff" stroke="#ff00ff" stroke-width="1.35"/><circle cx="488.37" cy="73.88" r="0.7" fill="#ff00ff"/><circle cx="490.01" cy="92.59" r="2.7" fill="#fff" stroke="#ff00ff" stroke-width="1.35"/><circle cx="490.01" cy="92.59" r="0.7" fill="#ff00ff"/><circle cx="491.22" cy="108.44" r="2.7" fill="#fff" stroke="#ff00ff" stroke-width="1.35"/><circle cx="491.22" cy="108.44" r="0.7" fill="#ff00ff"/><circle cx="492.81" cy="118.04" r="2.7" fill="#fff" stroke="#ff00ff" stroke-width="1.35"/><circle cx="492.81" cy="118.04" r="0.7" fill="#ff00ff"/><circle cx="494.05" cy="125.57" r="2.7" fill="#fff" stroke="#ff00ff" stroke-width="1.35"/><circle cx="494.05" cy="125.57" r="0.7" fill="#ff00ff"/><circle cx="495.32" cy="132.37" r="2.7" fill="#fff" stroke="#ff00ff" stroke-width="1.35"/><circle cx="495.32" cy="132.37" r="0.7" fill="#ff00ff"/><circle cx="496.56" cy="138.58" r="2.7" fill="#fff" stroke="#ff00ff" stroke-width="1.35"/><circle cx="496.56" cy="138.58" r="0.7" fill="#ff00ff"/><circle cx="498.6" cy="143.77" r="2.7" fill="#fff" stroke="#ff00ff" stroke-width="1.35"/><circle cx="498.6" cy="143.77" r="0.7" fill="#ff00ff"/><circle cx="499.45" cy="147.02" r="2.7" fill="#fff" stroke="#ff00ff" stroke-width="1.35"/><circle cx="499.45" cy="147.02" r="0.7" fill="#ff00ff"/><circle cx="500.69" cy="152.05" r="2.7" fill="#fff" stroke="#ff00ff" stroke-width="1.35"/><circle cx="500.69" cy="152.05" r="0.7" fill="#ff00ff"/><circle cx="502.11" cy="156.72" r="2.7" fill="#fff" stroke="#ff00ff" stroke-width="1.35"/><circle cx="502.11" cy="156.72" r="0.7" fill="#ff00ff"/><circle cx="503.62" cy="159.99" r="2.7" fill="#fff" stroke="#ff00ff" stroke-width="1.35"/><circle cx="503.62" cy="159.99" r="0.7" fill="#ff00ff"/><circle cx="504.92" cy="162.93" r="2.7" fill="#fff" stroke="#ff00ff" stroke-width="1.35"/><circle cx="504.92" cy="162.93" r="0.7" fill="#ff00ff"/><circle cx="506.54" cy="164.53" r="2.7" fill="#fff" stroke="#ff00ff" stroke-width="1.35"/><circle cx="506.54" cy="164.53" r="0.7" fill="#ff00ff"/><circle cx="507.65" cy="167.76" r="2.7" fill="#fff" stroke="#ff00ff" stroke-width="1.35"/><circle cx="507.65" cy="167.76" r="0.7" fill="#ff00ff"/><circle cx="509.01" cy="172.11" r="2.7" fill="#fff" stroke="#ff00ff" stroke-width="1.35"/><circle cx="509.01" cy="172.11" r="0.7" fill="#ff00ff"/><circle cx="510.33" cy="174.58" r="2.7" fill="#fff" stroke="#ff00ff" stroke-width="1.35"/><circle cx="510.33" cy="174.58" r="0.7" fill="#ff00ff"/><circle cx="511.53" cy="178.28" r="2.7" fill="#fff" stroke="#ff00ff" stroke-width="1.35"/><circle cx="511.53" cy="178.28" r="0.7" fill="#ff00ff"/><circle cx="513.09" cy="184.73" r="2.7" fill="#fff" stroke="#ff00ff" stroke-width="1.35"/><circle cx="513.09" cy="184.73" r="0.7" fill="#ff00ff"/><circle cx="514.47" cy="186.92" r="2.7" fill="#fff" stroke="#ff00ff" stroke-width="1.35"/><circle cx="514.47" cy="186.92" r="0.7" fill="#ff00ff"/><circle cx="515.8" cy="188.74" r="2.7" fill="#fff" stroke="#ff00ff" stroke-width="1.35"/><circle cx="515.8" cy="188.74" r="0.7" fill="#ff00ff"/><circle cx="517.35" cy="191.68" r="2.7" fill="#fff" stroke="#ff00ff" stroke-width="1.35"/><circle cx="517.35" cy="191.68" r="0.7" fill="#ff00ff"/><circle cx="518.78" cy="193.26" r="2.7" fill="#fff" stroke="#ff00ff" stroke-width="1.35"/><circle cx="518.78" cy="193.26" r="0.7" fill="#ff00ff"/><circle cx="520" cy="192.5" r="2.7" fill="#fff" stroke="#ff00ff" stroke-width="1.35"/><circle cx="520" cy="192.5" r="0.7" fill="#ff00ff"/><circle cx="521.34" cy="194.09" r="2.7" fill="#fff" stroke="#ff00ff" stroke-width="1.35"/><circle cx="521.34" cy="194.09" r="0.7" fill="#ff00ff"/><circle cx="522.53" cy="195.32" r="2.7" fill="#fff" stroke="#ff00ff" stroke-width="1.35"/><circle cx="522.53" cy="195.32" r="0.7" fill="#ff00ff"/><circle cx="524.24" cy="196.24" r="2.7" fill="#fff" stroke="#ff00ff" stroke-width="1.35"/><circle cx="524.24" cy="196.24" r="0.7" fill="#ff00ff"/><circle cx="525.66" cy="197" r="2.7" fill="#fff" stroke="#ff00ff" stroke-width="1.35"/><circle cx="525.66" cy="197" r="0.7" fill="#ff00ff"/><circle cx="526.47" cy="196.28" r="2.7" fill="#fff" stroke="#ff00ff" stroke-width="1.35"/><circle cx="526.47" cy="196.28" r="0.7" fill="#ff00ff"/><circle cx="528.36" cy="197.89" r="2.7" fill="#fff" stroke="#ff00ff" stroke-width="1.35"/><circle cx="528.36" cy="197.89" r="0.7" fill="#ff00ff"/><circle cx="529.43" cy="196.84" r="2.7" fill="#fff" stroke="#ff00ff" stroke-width="1.35"/><circle cx="529.43" cy="196.84" r="0.7" fill="#ff00ff"/><circle cx="530.8" cy="197.86" r="2.7" fill="#fff" stroke="#ff00ff" stroke-width="1.35"/><circle cx="530.8" cy="197.86" r="0.7" fill="#ff00ff"/><circle cx="532.06" cy="197.41" r="2.7" fill="#fff" stroke="#ff00ff" stroke-width="1.35"/><circle cx="532.06" cy="197.41" r="0.7" fill="#ff00ff"/><circle cx="533.54" cy="196.37" r="2.7" fill="#fff" stroke="#ff00ff" stroke-width="1.35"/><circle cx="533.54" cy="196.37" r="0.7" fill="#ff00ff"/><circle cx="534.81" cy="196.82" r="2.7" fill="#fff" stroke="#ff00ff" stroke-width="1.35"/><circle cx="534.81" cy="196.82" r="0.7" fill="#ff00ff"/><circle cx="536.11" cy="196.71" r="2.7" fill="#fff" stroke="#ff00ff" stroke-width="1.35"/><circle cx="536.11" cy="196.71" r="0.7" fill="#ff00ff"/><circle cx="537.47" cy="196.86" r="2.7" fill="#fff" stroke="#ff00ff" stroke-width="1.35"/><circle cx="537.47" cy="196.86" r="0.7" fill="#ff00ff"/><circle cx="539.21" cy="197.62" r="2.7" fill="#fff" stroke="#ff00ff" stroke-width="1.35"/><circle cx="539.21" cy="197.62" r="0.7" fill="#ff00ff"/><circle cx="540.35" cy="197.01" r="2.7" fill="#fff" stroke="#ff00ff" stroke-width="1.35"/><circle cx="540.35" cy="197.01" r="0.7" fill="#ff00ff"/><circle cx="541.67" cy="198.36" r="2.7" fill="#fff" stroke="#ff00ff" stroke-width="1.35"/><circle cx="541.67" cy="198.36" r="0.7" fill="#ff00ff"/><circle cx="543.26" cy="199.77" r="2.7" fill="#fff" stroke="#ff00ff" stroke-width="1.35"/><circle cx="543.26" cy="199.77" r="0.7" fill="#ff00ff"/><circle cx="544.29" cy="199.84" r="2.7" fill="#fff" stroke="#ff00ff" stroke-width="1.35"/><circle cx="544.29" cy="199.84" r="0.7" fill="#ff00ff"/><circle cx="545.73" cy="199.26" r="2.7" fill="#fff" stroke="#ff00ff" stroke-width="1.35"/><circle cx="545.73" cy="199.26" r="0.7" fill="#ff00ff"/><circle cx="547.07" cy="198.75" r="2.7" fill="#fff" stroke="#ff00ff" stroke-width="1.35"/><circle cx="547.07" cy="198.75" r="0.7" fill="#ff00ff"/><circle cx="548.43" cy="196.54" r="2.7" fill="#fff" stroke="#ff00ff" stroke-width="1.35"/><circle cx="548.43" cy="196.54" r="0.7" fill="#ff00ff"/><circle cx="549.89" cy="197.68" r="2.7" fill="#fff" stroke="#ff00ff" stroke-width="1.35"/><circle cx="549.89" cy="197.68" r="0.7" fill="#ff00ff"/><circle cx="551.14" cy="198.31" r="2.7" fill="#fff" stroke="#ff00ff" stroke-width="1.35"/><circle cx="551.14" cy="198.31" r="0.7" fill="#ff00ff"/><circle cx="552.6" cy="200.7" r="2.7" fill="#fff" stroke="#ff00ff" stroke-width="1.35"/><circle cx="552.6" cy="200.7" r="0.7" fill="#ff00ff"/><circle cx="553.71" cy="197.54" r="2.7" fill="#fff" stroke="#ff00ff" stroke-width="1.35"/><circle cx="553.71" cy="197.54" r="0.7" fill="#ff00ff"/><circle cx="555.08" cy="199.42" r="2.7" fill="#fff" stroke="#ff00ff" stroke-width="1.35"/><circle cx="555.08" cy="199.42" r="0.7" fill="#ff00ff"/><circle cx="556.55" cy="197.48" r="2.7" fill="#fff" stroke="#ff00ff" stroke-width="1.35"/><circle cx="556.55" cy="197.48" r="0.7" fill="#ff00ff"/><circle cx="558.03" cy="198.22" r="2.7" fill="#fff" stroke="#ff00ff" stroke-width="1.35"/><circle cx="558.03" cy="198.22" r="0.7" fill="#ff00ff"/><circle cx="559.4" cy="196.57" r="2.7" fill="#fff" stroke="#ff00ff" stroke-width="1.35"/><circle cx="559.4" cy="196.57" r="0.7" fill="#ff00ff"/><circle cx="560.67" cy="198.8" r="2.7" fill="#fff" stroke="#ff00ff" stroke-width="1.35"/><circle cx="560.67" cy="198.8" r="0.7" fill="#ff00ff"/><circle cx="561.94" cy="199.5" r="2.7" fill="#fff" stroke="#ff00ff" stroke-width="1.35"/><circle cx="561.94" cy="199.5" r="0.7" fill="#ff00ff"/><circle cx="563.37" cy="197.37" r="2.7" fill="#fff" stroke="#ff00ff" stroke-width="1.35"/><circle cx="563.37" cy="197.37" r="0.7" fill="#ff00ff"/><circle cx="564.68" cy="198.78" r="2.7" fill="#fff" stroke="#ff00ff" stroke-width="1.35"/><circle cx="564.68" cy="198.78" r="0.7" fill="#ff00ff"/><circle cx="566.27" cy="197.72" r="2.7" fill="#fff" stroke="#ff00ff" stroke-width="1.35"/><circle cx="566.27" cy="197.72" r="0.7" fill="#ff00ff"/><circle cx="567.55" cy="197.89" r="2.7" fill="#fff" stroke="#ff00ff" stroke-width="1.35"/><circle cx="567.55" cy="197.89" r="0.7" fill="#ff00ff"/><circle cx="568.68" cy="197.22" r="2.7" fill="#fff" stroke="#ff00ff" stroke-width="1.35"/><circle cx="568.68" cy="197.22" r="0.7" fill="#ff00ff"/><circle cx="570.3" cy="197.81" r="2.7" fill="#fff" stroke="#ff00ff" stroke-width="1.35"/><circle cx="570.3" cy="197.81" r="0.7" fill="#ff00ff"/><circle cx="571.56" cy="200.04" r="2.7" fill="#fff" stroke="#ff00ff" stroke-width="1.35"/><circle cx="571.56" cy="200.04" r="0.7" fill="#ff00ff"/><circle cx="573.05" cy="197.87" r="2.7" fill="#fff" stroke="#ff00ff" stroke-width="1.35"/><circle cx="573.05" cy="197.87" r="0.7" fill="#ff00ff"/><circle cx="574.21" cy="198.59" r="2.7" fill="#fff" stroke="#ff00ff" stroke-width="1.35"/><circle cx="574.21" cy="198.59" r="0.7" fill="#ff00ff"/><circle cx="575.28" cy="199.02" r="2.7" fill="#fff" stroke="#ff00ff" stroke-width="1.35"/><circle cx="575.28" cy="199.02" r="0.7" fill="#ff00ff"/><circle cx="576.86" cy="199.1" r="2.7" fill="#fff" stroke="#ff00ff" stroke-width="1.35"/><circle cx="576.86" cy="199.1" r="0.7" fill="#ff00ff"/><circle cx="578.22" cy="197.97" r="2.7" fill="#fff" stroke="#ff00ff" stroke-width="1.35"/><circle cx="578.22" cy="197.97" r="0.7" fill="#ff00ff"/><circle cx="579.82" cy="199.03" r="2.7" fill="#fff" stroke="#ff00ff" stroke-width="1.35"/><circle cx="579.82" cy="199.03" r="0.7" fill="#ff00ff"/><circle cx="581.33" cy="197.86" r="2.7" fill="#fff" stroke="#ff00ff" stroke-width="1.35"/><circle cx="581.33" cy="197.86" r="0.7" fill="#ff00ff"/><circle cx="582.31" cy="199.94" r="2.7" fill="#fff" stroke="#ff00ff" stroke-width="1.35"/><circle cx="582.31" cy="199.94" r="0.7" fill="#ff00ff"/><circle cx="583.85" cy="197.14" r="2.7" fill="#fff" stroke="#ff00ff" stroke-width="1.35"/><circle cx="583.85" cy="197.14" r="0.7" fill="#ff00ff"/><circle cx="585.05" cy="198.81" r="2.7" fill="#fff" stroke="#ff00ff" stroke-width="1.35"/><circle cx="585.05" cy="198.81" r="0.7" fill="#ff00ff"/><circle cx="586.4" cy="196.85" r="2.7" fill="#fff" stroke="#ff00ff" stroke-width="1.35"/><circle cx="586.4" cy="196.85" r="0.7" fill="#ff00ff"/><circle cx="587.85" cy="198.86" r="2.7" fill="#fff" stroke="#ff00ff" stroke-width="1.35"/><circle cx="587.85" cy="198.86" r="0.7" fill="#ff00ff"/><circle cx="589.4" cy="199.56" r="2.7" fill="#fff" stroke="#ff00ff" stroke-width="1.35"/><circle cx="589.4" cy="199.56" r="0.7" fill="#ff00ff"/><circle cx="590.68" cy="197.54" r="2.7" fill="#fff" stroke="#ff00ff" stroke-width="1.35"/><circle cx="590.68" cy="197.54" r="0.7" fill="#ff00ff"/><circle cx="591.72" cy="197.34" r="2.7" fill="#fff" stroke="#ff00ff" stroke-width="1.35"/><circle cx="591.72" cy="197.34" r="0.7" fill="#ff00ff"/><circle cx="593.36" cy="199.36" r="2.7" fill="#fff" stroke="#ff00ff" stroke-width="1.35"/><circle cx="593.36" cy="199.36" r="0.7" fill="#ff00ff"/><circle cx="594.33" cy="199.01" r="2.7" fill="#fff" stroke="#ff00ff" stroke-width="1.35"/><circle cx="594.33" cy="199.01" r="0.7" fill="#ff00ff"/><circle cx="596.13" cy="200.03" r="2.7" fill="#fff" stroke="#ff00ff" stroke-width="1.35"/><circle cx="596.13" cy="200.03" r="0.7" fill="#ff00ff"/><circle cx="597.47" cy="199.45" r="2.7" fill="#fff" stroke="#ff00ff" stroke-width="1.35"/><circle cx="597.47" cy="199.45" r="0.7" fill="#ff00ff"/><circle cx="598.74" cy="198.14" r="2.7" fill="#fff" stroke="#ff00ff" stroke-width="1.35"/><circle cx="598.74" cy="198.14" r="0.7" fill="#ff00ff"/><circle cx="600.04" cy="198.41" r="2.7" fill="#fff" stroke="#ff00ff" stroke-width="1.35"/><circle cx="600.04" cy="198.41" r="0.7" fill="#ff00ff"/><circle cx="601.24" cy="198.35" r="2.7" fill="#fff" stroke="#ff00ff" stroke-width="1.35"/><circle cx="601.24" cy="198.35" r="0.7" fill="#ff00ff"/><circle cx="602.94" cy="198.14" r="2.7" fill="#fff" stroke="#ff00ff" stroke-width="1.35"/><circle cx="602.94" cy="198.14" r="0.7" fill="#ff00ff"/><circle cx="604.34" cy="197.57" r="2.7" fill="#fff" stroke="#ff00ff" stroke-width="1.35"/><circle cx="604.34" cy="197.57" r="0.7" fill="#ff00ff"/><circle cx="605.57" cy="197.67" r="2.7" fill="#fff" stroke="#ff00ff" stroke-width="1.35"/><circle cx="605.57" cy="197.67" r="0.7" fill="#ff00ff"/><circle cx="607.02" cy="199.27" r="2.7" fill="#fff" stroke="#ff00ff" stroke-width="1.35"/><circle cx="607.02" cy="199.27" r="0.7" fill="#ff00ff"/><circle cx="608.37" cy="199.38" r="2.7" fill="#fff" stroke="#ff00ff" stroke-width="1.35"/><circle cx="608.37" cy="199.38" r="0.7" fill="#ff00ff"/><circle cx="609.65" cy="199.72" r="2.7" fill="#fff" stroke="#ff00ff" stroke-width="1.35"/><circle cx="609.65" cy="199.72" r="0.7" fill="#ff00ff"/><circle cx="610.96" cy="195.96" r="2.7" fill="#fff" stroke="#ff00ff" stroke-width="1.35"/><circle cx="610.96" cy="195.96" r="0.7" fill="#ff00ff"/><circle cx="612.31" cy="199.1" r="2.7" fill="#fff" stroke="#ff00ff" stroke-width="1.35"/><circle cx="612.31" cy="199.1" r="0.7" fill="#ff00ff"/><circle cx="613.29" cy="199.81" r="2.7" fill="#fff" stroke="#ff00ff" stroke-width="1.35"/><circle cx="613.29" cy="199.81" r="0.7" fill="#ff00ff"/><circle cx="615" cy="199.67" r="2.7" fill="#fff" stroke="#ff00ff" stroke-width="1.35"/><circle cx="615" cy="199.67" r="0.7" fill="#ff00ff"/><circle cx="616.32" cy="198.79" r="2.7" fill="#fff" stroke="#ff00ff" stroke-width="1.35"/><circle cx="616.32" cy="198.79" r="0.7" fill="#ff00ff"/><circle cx="617.59" cy="198.35" r="2.7" fill="#fff" stroke="#ff00ff" stroke-width="1.35"/><circle cx="617.59" cy="198.35" r="0.7" fill="#ff00ff"/><circle cx="618.83" cy="198.88" r="2.7" fill="#fff" stroke="#ff00ff" stroke-width="1.35"/><circle cx="618.83" cy="198.88" r="0.7" fill="#ff00ff"/><circle cx="620.38" cy="197.94" r="2.7" fill="#fff" stroke="#ff00ff" stroke-width="1.35"/><circle cx="620.38" cy="197.94" r="0.7" fill="#ff00ff"/><circle cx="621.68" cy="197.61" r="2.7" fill="#fff" stroke="#ff00ff" stroke-width="1.35"/><circle cx="621.68" cy="197.61" r="0.7" fill="#ff00ff"/>
</g>
</svg></body></html>
